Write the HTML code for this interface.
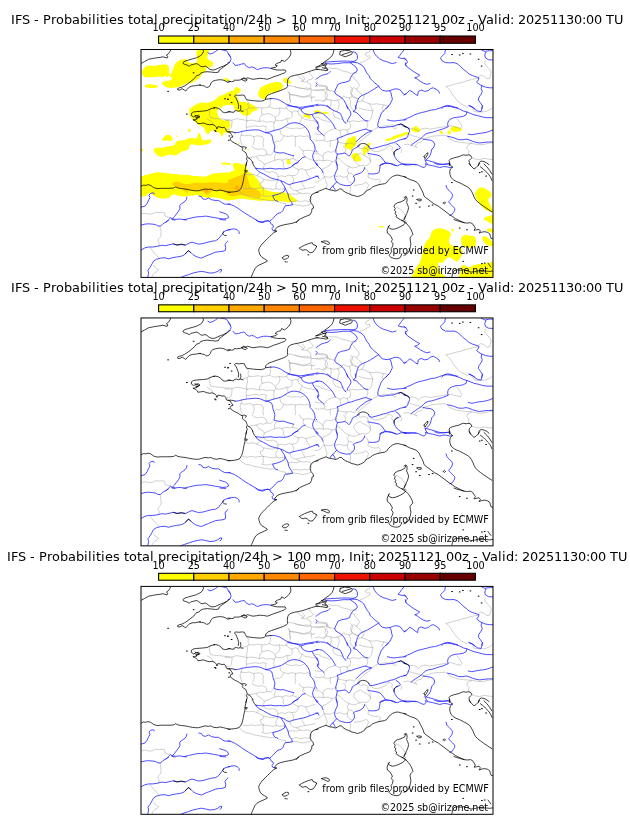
<!DOCTYPE html>
<html><head><meta charset="utf-8"><title>IFS - Probabilities total precipitation/24h</title>
<style>html,body{margin:0;padding:0;background:#fff}svg{display:block}text{font-family:"DejaVu Sans","Liberation Sans",sans-serif;fill:#000}</style></head>
<body>
<svg width="630" height="828" viewBox="0 0 630 828">
<defs>
<clipPath id="clip"><rect x="141.0" y="49.5" width="352.0" height="227.89999999999998"/></clipPath>
<g id="basemap" fill="none" stroke-linejoin="round" stroke-linecap="round">
<path stroke="#a0a0a0" stroke-width="0.5" d="M210.0,109.1 L209.3,112.0 L209.7,114.8 L210.7,117.7 L214.3,118.4 L218.6,118.7 L222.9,119.1 L227.1,119.8 L230.0,119.6 M207.1,119.1 L210.0,120.6 L212.1,122.0 L212.9,124.1 M142.1,213.7 L145.7,213.3 L149.3,214.3 L152.9,213.7 L155.7,212.3 L159.3,212.6 L162.1,212.3 L164.6,212.8 L165.0,216.1 L167.9,217.1 L170.7,217.6 M160.0,226.4 L160.7,229.6 L161.1,233.1 L160.7,236.7 L158.6,238.8 L157.9,241.0 L159.3,243.1 L158.6,246.0 M150.0,247.8 L152.1,250.3 L154.3,253.1 L156.4,255.3 L158.6,257.4 M153.6,265.3 L155.7,268.1 L158.6,269.6 L157.1,271.7 L155.0,272.4 L152.9,274.6 L152.1,276.7 M370.3,50.3 L368.9,52.1 L366.0,52.8 L365.3,55.0 L367.4,56.4 L369.6,55.7 L370.3,57.8 L367.4,59.3 L365.3,60.7 L362.4,62.1 L360.3,62.8 M328.9,67.8 L332.4,68.6 L336.0,68.3 L338.9,69.3 L341.7,70.7 L344.6,71.4 L348.1,72.1 L351.0,73.6 L353.9,72.8 L356.7,73.1 M351.7,75.7 L353.9,77.1 L354.6,79.3 L356.7,80.7 L358.1,82.8 L359.6,85.4 L358.1,87.1 L356.7,89.3 L358.1,91.4 L360.3,92.8 L361.7,95.0 M316.0,86.4 L318.9,86.0 L322.4,86.4 L326.0,86.8 L327.4,89.3 L330.3,90.7 L333.1,91.4 L335.3,92.1 M353.1,87.8 L351.0,90.0 L350.3,92.8 L351.7,95.0 L353.9,96.4 L356.0,97.8 L358.1,98.6 M353.9,87.8 L356.7,89.3 M396.0,206.8 L398.9,208.3 L401.7,210.4 L403.9,213.3 L405.3,216.1 M446.1,86.4 L449.7,85.7 L453.3,84.6 L456.9,83.6 L460.4,82.8 L464.0,81.7 L467.6,80.7 L471.1,79.7 L474.7,78.8 L478.3,78.3 M446.1,86.4 L448.3,88.6 L450.4,90.7 L451.9,93.6 L454.0,96.4 L456.1,99.3 L459.0,102.1 L461.9,104.3 L464.7,105.7 L467.6,107.1 M485.4,60.7 L484.7,62.8 L486.1,65.7 L488.3,67.8 L490.4,70.0 L491.1,72.8 L490.4,75.7 L489.7,78.3 L486.9,78.8 L484.0,76.4 L481.1,75.0 L479.0,76.4 M409.0,129.1 L412.6,128.4 L416.9,129.8 L418.3,132.0 L421.1,129.1 L425.4,128.1 L429.7,129.1 L434.0,128.4 L438.3,127.7 L442.6,127.0 L446.9,126.3 L450.4,125.6 L454.0,126.7 L457.6,127.7 L460.4,128.4 L461.9,126.3 L460.4,123.4 L459.0,121.0 L456.9,119.1 M408.3,134.1 L411.9,135.6 L416.1,136.7 L419.7,137.7 L423.3,139.1 M404.0,144.8 L407.6,144.1 L411.1,145.3 L414.7,146.3 L416.9,147.7 L415.4,145.6 L417.6,143.0 L421.1,142.4 L423.3,139.8 M423.3,139.1 L427.6,137.7 L431.9,136.3 L436.1,135.8 L440.4,135.6 L444.7,135.3 L447.6,136.3 L449.7,139.1 L454.0,141.0 L458.3,142.0 L462.6,142.7 L466.9,143.0 L471.1,143.4 M471.1,143.4 L467.6,145.6 L466.9,148.4 L469.0,150.6 L468.3,153.4 L470.4,155.6 M471.1,143.4 L475.4,144.1 L479.7,144.8 L484.0,144.4 L488.3,143.4 L492.6,142.7 M471.9,157.7 L475.4,159.1 L479.7,159.6 L484.0,158.4 L488.3,159.1 L492.6,159.6 M472.6,109.1 L474.0,111.3 L477.6,112.0 L481.1,112.0 L485.4,111.6 L489.7,109.8 L492.6,107.7 M246.4,99.7 L248.6,102.3 L247.9,105.1 L249.3,108.0 L246.4,109.4 L242.9,110.6 L240.7,110.8 M249.3,108.0 L253.6,108.0 L257.9,107.3 L262.1,108.0 L266.4,107.7 L269.3,106.6 L272.1,108.0 L275.7,108.7 L279.3,108.0 L283.6,108.7 L286.4,108.0 M269.3,106.6 L270.7,103.7 L270.0,100.8 L271.4,98.7 M286.4,108.0 L287.9,105.1 L289.3,105.1 M286.4,108.0 L288.6,110.8 L292.1,112.3 L295.0,110.8 L297.9,111.6 L300.0,108.7 M288.6,91.6 L290.0,94.4 L289.3,97.3 L290.7,100.1 L290.0,103.0 L289.3,105.1 M290.0,94.4 L295.0,95.1 L299.3,96.6 L303.6,97.3 L307.9,96.6 L312.1,97.3 L315.0,96.8 M295.0,86.6 L297.9,88.0 L302.1,88.7 L306.4,88.0 L310.7,88.7 M247.1,109.4 L247.6,113.7 L246.4,117.3 L247.1,120.8 L246.1,124.0 L246.4,127.3 L246.4,130.1 M225.0,120.1 L228.6,120.8 L232.1,120.1 L231.9,123.7 L231.4,127.3 L229.3,129.4 L226.4,129.4 M232.1,120.1 L236.4,118.7 L240.7,119.4 L245.0,120.1 L247.1,120.8 M247.1,120.8 L251.4,120.1 L255.7,120.8 L259.3,121.6 L262.9,120.8 L266.4,122.3 L270.7,121.6 L274.3,122.3 L275.7,120.1 L275.0,117.3 L272.1,115.1 L269.3,113.7 L265.7,114.0 L262.1,114.8 L260.0,117.3 L259.3,121.6 M262.1,114.8 L261.4,111.6 L262.1,108.0 M275.7,120.1 L279.3,120.8 L283.6,120.1 L286.4,118.7 L290.0,118.7 L292.1,116.6 L292.1,112.3 M279.3,108.0 L280.0,111.6 L278.6,115.1 L275.7,117.3 M246.4,127.3 L250.7,126.6 L255.0,125.8 L259.3,126.6 L262.9,125.8 L266.4,126.6 L265.7,129.4 L265.7,133.0 M274.3,122.3 L273.6,125.8 L274.3,128.7 L273.6,131.1 M286.4,118.7 L287.9,122.3 L287.9,124.4 M297.9,111.6 L299.3,115.1 L302.1,117.3 L305.0,119.4 L309.3,120.1 L312.9,120.8 L315.0,120.8 M302.1,117.3 L300.7,120.8 L299.3,123.4 M240.7,135.1 L245.0,135.8 L249.3,135.1 L253.6,136.6 L257.9,135.8 L262.1,136.6 L263.6,139.4 L262.9,143.0 L263.6,146.6 M280.0,130.1 L280.7,133.7 L283.6,135.8 L287.9,136.6 L292.1,135.8 L295.7,136.6 L295.0,140.1 L295.7,143.7 L295.0,146.6 M283.6,135.8 L282.1,139.4 L279.3,141.6 L276.4,140.8 L274.3,143.0 M295.7,136.6 L300.0,135.8 L304.3,136.6 L307.9,135.8 L310.4,137.3 M242.1,131.1 L241.4,135.1 L240.0,138.0 L240.7,141.6 L242.1,145.1 M253.6,136.6 L254.3,140.8 L252.9,145.1 M304.3,127.3 L300.7,128.7 L296.4,128.0 L292.1,128.7 L288.6,128.0 L285.0,126.6 M315.0,90.1 L319.3,90.8 L323.6,90.1 L325.7,93.0 L325.0,96.6 L327.1,99.4 L330.7,100.1 L334.3,100.8 L337.9,100.1 L341.4,98.7 M327.1,86.6 L327.9,89.4 L325.7,93.0 M350.7,86.6 L352.9,89.4 L351.4,93.0 L352.1,96.6 L349.3,98.0 L345.7,97.3 L343.6,95.8 L341.4,98.7 M352.1,96.6 L355.0,98.0 L357.9,98.7 M315.0,100.8 L319.3,100.1 L323.6,101.6 L327.1,99.4 M330.7,100.1 L331.4,103.7 L330.0,108.0 M337.9,100.1 L339.3,103.7 L338.6,107.3 L337.1,111.6 M349.3,98.0 L350.7,101.6 L350.0,105.1 L351.4,108.0 L353.6,110.8 M357.9,101.6 L362.1,100.8 L365.7,102.3 L369.3,103.7 L372.9,104.4 L376.4,103.7 L380.0,104.4 L383.6,105.1 L387.1,105.8 M362.1,100.8 L363.6,98.0 L364.3,94.4 M369.3,103.7 L371.4,107.3 L372.9,110.8 L372.1,114.4 L371.4,118.0 L369.3,120.8 M359.3,108.0 L363.6,109.4 L367.9,110.1 L372.9,110.8 M383.6,105.1 L382.1,108.7 L383.6,111.6 M315.0,117.3 L319.3,118.0 L322.1,120.1 L325.7,120.8 L329.3,122.3 L330.7,121.6 M333.6,110.1 L332.9,113.7 L335.0,117.3 L338.6,118.7 L342.9,119.4 M345.0,122.3 L349.3,121.6 L353.6,120.8 L357.9,121.6 L362.1,120.8 L366.4,120.8 M349.3,121.6 L350.7,125.1 L350.0,128.7 L347.1,130.1 L343.6,129.4 L340.0,130.8 L335.7,128.7 M335.7,128.7 L332.1,129.4 L328.6,130.8 L325.7,133.0 L323.9,135.8 M366.4,120.8 L367.9,124.4 L367.1,127.3 L365.7,129.1 M371.4,131.1 L374.3,129.4 L377.1,128.0 L377.9,125.8 M371.4,131.1 L369.3,134.4 L365.7,136.6 L362.9,139.1 L360.0,141.6 L357.9,143.7 M315.0,133.7 L318.6,134.4 L322.1,134.4 M315.0,140.1 L319.3,140.8 L323.6,140.1 L327.1,141.6 L330.7,140.8 L335.0,140.1 L337.9,138.7 M323.9,135.8 L325.0,138.7 L323.6,140.1 M340.0,130.8 L340.7,134.4 L341.4,137.3 M347.1,130.1 L348.6,134.4 M338.1,142.3 L342.1,143.0 L346.4,143.7 L350.7,143.0 L354.3,144.4 L356.1,142.0 M330.7,140.8 L330.0,144.4 L330.7,146.6 M346.4,143.7 L345.7,146.6 M392.1,126.6 L394.3,128.7 L396.4,128.0 M247.9,158.0 L252.1,157.3 L256.4,156.6 L260.0,155.1 L263.6,155.8 L267.1,154.4 L270.7,155.1 L273.6,152.3 M252.1,146.6 L255.0,148.7 L258.6,149.4 L262.1,148.7 L265.7,150.1 L267.1,154.4 M256.4,156.6 L258.6,160.1 L262.1,161.6 L264.3,164.4 L263.6,167.3 L263.6,169.1 M264.3,164.4 L267.9,163.0 L271.4,161.6 L275.0,160.1 L278.6,159.4 L282.1,160.1 L283.6,163.0 L282.9,165.8 L285.0,168.7 M275.0,160.1 L274.3,156.6 L276.4,153.0 M282.1,160.1 L285.7,158.7 L289.3,159.4 L292.9,158.7 L293.6,155.8 M292.9,158.7 L296.4,160.1 L299.3,160.8 M299.3,146.6 L300.7,149.4 L303.6,150.8 L302.9,154.4 L305.0,156.8 M303.6,150.8 L307.9,150.1 L312.1,150.8 L315.0,151.6 M305.0,156.8 L308.6,158.7 L312.1,160.1 L315.0,160.8 M292.1,165.8 L295.0,168.0 L298.6,169.4 L302.1,168.7 L305.7,170.1 L309.3,169.4 L312.9,168.0 L315.0,168.0 M298.6,169.4 L297.9,173.0 L295.7,175.1 L292.1,175.8 L288.6,175.1 L285.0,176.6 L281.4,175.8 L277.9,176.6 L277.9,180.1 M263.6,169.1 L265.7,171.6 L269.3,172.3 L272.9,171.6 L276.4,173.0 L277.9,176.6 M245.3,174.4 L249.3,174.8 L253.6,174.4 L257.1,175.8 L260.0,172.3 M257.1,175.8 L260.7,177.3 L263.6,179.4 L262.9,182.3 L260.0,183.0 L260.7,185.8 L263.6,188.0 L262.9,190.8 L263.6,193.7 L262.1,195.8 M263.6,179.4 L267.9,180.1 L271.4,180.8 L275.0,180.1 L277.9,180.1 M242.9,188.0 L247.1,188.7 L251.4,188.0 L255.7,188.7 L260.0,188.0 L263.6,188.0 M263.6,188.0 L267.9,188.7 L272.1,189.4 L276.4,188.7 L280.0,189.4 L283.9,188.7 M276.4,188.7 L275.7,185.1 L277.1,182.3 L277.9,180.1 M239.3,190.8 L242.1,193.7 L245.7,195.8 L250.0,196.6 L254.3,198.0 L258.6,198.7 L262.1,199.4 L266.4,200.1 L270.7,200.8 L274.3,200.6 M262.1,195.8 L266.4,196.6 L270.7,195.8 L274.3,195.1 M277.6,201.6 L281.4,203.0 L285.7,203.7 L285.7,205.8 M287.9,194.4 L292.1,193.7 L296.4,194.4 L300.0,193.0 L303.6,193.7 L307.9,193.0 L310.7,194.4 M290.0,184.8 L290.7,188.0 L293.6,190.1 L296.4,190.8 L300.0,193.0 M296.4,190.8 L300.7,189.4 L305.0,188.7 L309.3,188.0 L312.9,187.3 L315.0,186.6 M301.4,181.6 L302.9,185.1 L305.0,188.7 M292.1,175.8 L293.6,179.4 L292.9,183.4 M305.7,170.1 L307.1,173.7 L309.3,176.6 L309.3,179.1 M292.1,201.6 L296.4,200.8 L300.7,201.6 L305.0,200.8 L309.3,201.6 L311.4,199.4 L310.7,196.6 L312.1,194.4 M285.9,205.7 L290.1,205.4 L293.7,204.7 L298.0,205.1 L302.3,206.1 L306.6,205.4 L310.6,204.0 M336.4,157.3 L340.0,159.4 L342.9,162.3 L345.7,165.1 L349.3,166.6 L352.9,168.0 L356.4,167.3 L360.0,165.8 L362.9,165.1 L365.7,165.8 L368.6,164.4 L370.7,161.6 L369.3,158.7 L366.4,156.6 L362.9,155.1 L360.7,153.0 L357.1,154.4 L354.3,156.6 L353.6,159.4 L355.7,162.3 L357.9,164.4 L360.0,165.8 M349.3,166.6 L347.1,170.1 L348.6,173.0 L352.1,173.7 L353.6,175.8 M336.1,176.6 L340.0,175.8 L343.6,177.3 L347.1,176.6 L348.6,173.0 M347.1,176.6 L347.9,180.1 L350.0,182.3 L352.4,183.4 M315.0,160.8 L319.3,160.1 L323.6,160.8 L327.9,160.1 L332.1,161.6 L336.1,160.8 M323.6,160.8 L322.9,156.6 L324.3,153.0 L327.9,151.6 L331.4,152.3 L335.0,150.8 L336.7,150.1 M315.0,153.0 L318.6,153.7 L322.9,156.6 M332.1,161.6 L330.0,165.1 L326.4,167.3 L322.9,168.7 L321.9,170.6 M322.9,173.0 L324.3,176.6 L328.6,177.3 L332.1,176.8 L334.3,175.1 M315.0,182.3 L318.6,181.6 L321.4,179.4 L324.3,176.6 M324.3,176.6 L325.7,180.8 L327.1,184.4 L326.4,188.0 M350.0,185.4 L350.7,188.7 L350.0,192.3 L351.4,194.8 M354.3,185.4 L358.6,184.8 L362.9,184.0 L366.4,182.3 L368.6,185.1 L367.1,188.7 L365.7,191.1 M364.7,167.7 L367.1,170.1 L368.6,173.7 L367.9,177.3 L371.4,178.7 L375.0,179.7 L378.6,179.1 L380.7,180.8 L379.3,183.7 L378.6,184.8 M343.6,146.6 L345.7,149.4 L345.0,153.0 M357.9,146.6 L360.7,148.7 L364.3,148.0 L367.9,149.4 L367.9,153.7 L370.0,156.6 L370.7,161.6 M309.0,71.6 L310.0,73.9 L311.9,75.8 L313.3,77.7 L311.9,79.2 L310.0,79.6 L308.1,80.1 L307.1,81.6 L308.1,83.0 L310.0,83.9 L311.0,85.8 L310.5,87.7 L311.9,90.1 L314.8,90.1 L317.6,89.9 L320.5,89.6 L323.3,89.6 L326.2,89.2 L327.1,87.3 L326.2,85.8 L323.3,85.4 L320.5,85.2 L318.6,84.9 M297.6,74.9 L298.6,76.8 L300.5,78.2 L302.4,79.2 L303.8,80.1 L302.4,81.1 L301.0,81.1 L303.3,81.6 L306.2,82.0 L307.1,81.6 M302.4,75.8 L303.8,77.3 L304.8,79.2 L303.8,80.1 M288.1,85.4 L291.0,85.8 L293.8,86.5 L296.7,87.3 L299.5,87.7 L302.4,88.4 L305.2,89.2 L308.1,89.6 L310.5,89.9 M288.1,92.0 L289.5,93.9 L291.0,94.9 L293.8,95.1 L296.7,95.4 L299.5,95.8 L302.4,96.6 L305.2,96.3 L308.1,95.6 L310.5,94.9 L311.0,93.0 L311.4,91.1 L311.9,90.1 M289.5,93.9 L290.0,96.8 L289.5,99.2 L290.5,101.6 M310.5,94.9 L311.9,96.8 L311.4,99.2 L311.9,101.6 M327.1,93.5 L327.6,95.8 L326.7,97.7 L325.2,99.6 L323.3,100.6 M326.2,89.2 L328.1,90.1 L330.0,91.1 M368.6,146.3 L371.0,149.8 L374.6,151.6 L378.9,151.3 L383.1,149.8 L386.0,148.4 L387.4,146.3 L390.3,145.6 L392.4,147.7 L391.7,150.6 L393.9,152.4 M400.3,147.7 L401.7,149.8 L401.0,152.7 M377.7,127.7 L381.0,127.0 L384.6,125.6 L388.1,126.3 L391.7,124.8 L395.3,125.6 L398.1,124.4"/>
<path stroke="#2222ff" stroke-width="0.8" d="M207.9,52.8 L210.0,54.0 L212.9,53.1 L215.7,51.4 L217.9,49.7 M219.3,49.3 L222.9,50.0 L226.4,50.7 L228.6,53.6 L230.0,56.4 M141.4,207.1 L145.0,206.1 L147.1,203.3 L148.6,200.0 L150.0,197.6 L148.9,195.1 L150.7,193.3 L153.6,192.8 L154.3,194.0 M165.7,222.6 L168.6,219.7 L170.7,217.6 L172.1,219.0 L174.3,216.8 L176.4,214.0 L178.6,211.1 L180.0,208.3 L179.7,205.4 L182.1,203.3 L185.0,201.4 L186.4,199.4 L186.9,197.1 M172.1,219.0 L175.7,219.4 L180.0,219.0 L184.3,219.7 L188.6,218.6 L192.9,217.6 L197.1,216.8 L201.4,216.6 L205.7,216.1 L210.0,216.8 L214.3,217.6 L218.6,218.3 L222.9,219.0 L226.4,218.6 L228.6,217.6 L227.9,215.4 L225.7,213.7 L222.9,212.8 L219.7,211.8 M198.9,196.1 L201.4,196.6 L202.9,199.0 L205.7,199.4 L208.6,198.0 L211.4,199.7 L215.0,200.4 L218.6,200.4 L221.4,202.3 L224.3,204.0 L227.9,204.3 L230.0,204.0 M141.4,225.0 L145.0,224.1 L148.6,223.8 L152.1,224.1 L155.7,224.6 L157.9,226.0 L160.7,226.0 L162.9,223.8 L165.7,222.1 L168.6,220.3 M141.4,249.8 L145.0,247.8 L148.6,247.0 L152.9,247.0 L157.1,246.4 L161.4,245.3 L165.7,245.6 L170.0,244.6 L173.6,243.8 L177.1,245.0 L181.4,244.6 L185.7,245.0 L189.3,243.1 L192.1,242.1 L195.0,243.1 L198.6,244.1 L202.9,243.6 L207.1,242.4 L211.4,241.3 L215.7,240.7 L218.6,238.8 L220.7,236.0 L222.6,233.6 L224.3,231.3 L227.1,230.3 L230.0,229.8 M147.9,276.7 L148.6,273.1 L147.9,270.3 L150.0,267.4 L152.1,263.8 L153.6,261.0 L156.4,259.3 L160.7,258.1 L165.0,257.8 L168.6,258.8 L172.1,257.8 L176.4,257.0 L180.7,256.4 L184.3,255.0 L186.4,252.7 L188.6,250.7 L190.7,252.4 L192.9,254.6 L195.7,256.4 L198.6,257.4 L201.4,258.1 L205.0,256.4 L208.6,255.0 L212.1,253.6 L215.7,252.1 L219.3,251.7 L222.9,251.3 L225.4,250.3 L225.7,247.4 L225.0,244.6 L226.4,242.4 L227.9,241.0 M180.7,277.4 L184.3,276.0 L188.6,274.6 L192.9,273.1 L197.1,272.1 L201.4,271.3 L205.7,272.1 L210.0,273.1 L214.3,272.7 L217.9,271.3 L220.0,269.6 L221.7,269.3 L221.4,271.3 L220.0,272.4 M172.1,219.6 L175.0,220.0 M183.6,219.6 L186.4,220.0 M220.0,219.6 L225.7,220.0 M228.0,54.0 L230.1,55.7 L231.1,59.3 L229.7,62.1 L228.0,62.8 M233.0,62.8 L235.1,65.4 L238.7,65.0 L241.6,64.0 L244.4,63.6 L246.6,66.4 L249.4,67.8 L251.6,66.8 L254.4,67.8 L257.3,69.7 L260.1,68.6 L263.7,67.8 L267.3,67.8 L270.9,68.3 M270.9,98.6 L274.4,98.6 L277.3,99.3 L280.1,100.3 L283.0,102.1 L285.9,104.0 L289.4,105.4 L293.0,106.4 L296.6,106.8 L299.4,107.4 L303.0,107.1 L306.6,106.4 L310.9,105.7 L315.1,105.0 L318.0,104.3 M235.1,132.7 L238.7,132.4 L242.3,131.3 L246.6,130.6 L250.9,130.1 L255.1,129.8 L259.4,130.1 L263.0,131.6 L265.9,132.7 L269.4,132.0 L273.7,130.6 L278.0,129.6 L281.6,128.4 L284.4,126.7 L287.3,124.8 L290.1,123.4 L293.7,122.7 L297.3,123.0 L300.9,124.1 L303.7,125.8 L306.3,128.1 L308.0,130.6 L309.4,133.4 L310.1,136.3 L310.1,139.1 L312.3,141.3 L314.0,144.1 L314.9,147.0 L315.1,149.8 L313.7,152.7 L312.6,155.6 L313.0,158.4 L314.4,161.3 L315.9,163.4 L317.3,165.6 M265.9,132.7 L269.4,133.4 L271.6,134.8 L272.6,137.7 L273.0,140.6 L274.0,143.4 L274.9,146.3 L274.4,149.1 L274.0,151.6 L276.6,152.4 L280.1,153.0 L283.7,152.7 L286.6,153.8 L290.1,154.8 L293.7,155.8 M292.3,165.6 L295.1,163.8 L298.0,162.0 L300.1,159.8 L302.3,157.7 L305.1,156.7 M288.0,105.6 L291.6,106.3 L295.1,107.0 L298.0,107.7 L300.9,109.1 L303.0,108.4 L305.9,107.3 L309.4,106.7 L313.7,106.3 M300.9,109.1 L302.3,112.0 L305.1,113.8 L308.7,114.8 L312.3,114.4 L315.1,113.4 L318.0,112.7 M312.3,114.8 L313.7,117.7 L315.1,119.8 L317.3,121.3 L318.0,123.4 M317.3,127.0 L318.0,129.1 M255.9,168.3 L258.7,168.6 L262.3,169.0 L266.6,168.6 L270.9,168.3 L275.1,169.0 L279.4,168.6 L283.7,169.0 L288.0,168.3 L291.6,166.8 L293.7,164.7 L295.9,163.3 L298.0,162.6 M255.9,168.3 L257.3,170.4 L260.1,172.3 L263.7,174.0 L267.3,176.1 L270.9,178.0 L274.4,179.0 L278.0,179.7 L280.9,180.8 L282.3,183.3 L284.0,185.7 L285.1,188.3 L284.4,191.1 L281.6,192.8 L278.0,194.3 L275.1,195.1 L272.6,195.7 L273.7,198.3 L275.1,200.4 L277.7,201.4 M280.9,180.8 L283.7,181.8 L286.6,183.7 L289.4,184.7 L293.0,183.3 L297.3,182.3 L301.6,181.4 L305.9,180.4 L309.4,179.0 L313.0,177.6 L315.9,176.6 L318.0,176.1 M285.1,188.3 L286.6,191.1 L288.0,194.0 L288.7,197.6 L290.1,200.4 L291.6,202.3 L292.6,204.7 L289.4,205.4 L285.9,205.7 M228.0,204.0 L230.9,204.7 L234.4,206.1 L238.0,208.3 L241.6,210.8 L245.1,213.3 L248.7,215.4 L252.3,217.6 L255.9,219.7 L258.7,221.4 L262.3,221.8 L265.1,221.1 L268.0,220.8 L269.4,221.4 L271.6,219.7 L273.7,217.6 L275.9,215.1 L278.0,213.3 L280.9,212.6 L283.0,210.4 L284.0,208.0 L285.1,206.1 M315.9,162.6 L318.0,164.7 M255.9,219.6 L257.3,221.3 L260.1,222.1 L263.0,222.7 L265.4,221.3 L268.0,220.7 L270.1,221.7 L270.9,223.8 L273.0,225.0 L273.4,227.0 L272.0,228.4 L272.6,230.3 L274.4,231.0 L276.6,231.0 M228.0,229.8 L230.9,229.3 L234.4,228.8 L237.3,229.8 L239.1,231.7 L239.1,233.6 M325.3,62.1 L330.3,61.7 L336.0,61.4 L341.7,61.1 L347.4,61.1 L353.1,61.4 L356.0,60.7 L357.4,58.6 L357.4,55.7 L356.0,52.8 L353.1,51.7 M326.0,63.6 L331.7,64.0 L337.4,63.6 L343.1,62.8 L348.9,62.8 L353.1,62.1 M353.1,62.1 L357.4,62.8 L361.0,64.6 L363.9,67.1 L365.3,70.0 L366.7,72.8 L369.1,75.7 L370.3,78.6 L372.4,80.7 L374.6,82.8 L377.4,85.0 L378.9,86.4 L380.3,88.6 L382.4,90.3 L386.0,91.1 L389.6,90.7 L391.0,92.8 L391.7,96.4 L392.4,99.3 L391.0,102.1 L389.6,105.0 L387.4,107.1 L386.0,108.6 M350.3,62.8 L353.4,65.0 L356.0,67.1 L357.4,70.0 L356.0,72.1 L353.4,73.6 L351.7,75.7 L350.3,78.3 L349.6,80.7 L346.0,82.1 L341.7,82.8 L338.1,84.3 L336.7,87.1 L335.3,90.0 L334.6,92.1 L336.0,94.3 L338.9,96.0 L341.7,97.8 L343.9,100.3 L345.3,102.8 L346.7,105.7 L347.7,108.6 M378.9,86.0 L376.0,87.8 L373.1,89.7 L370.3,91.4 L367.4,93.1 L363.9,94.6 L361.0,96.0 L358.9,97.8 L357.4,100.7 L356.7,103.6 L356.0,106.4 L355.7,108.6 M330.3,71.4 L328.1,73.6 L324.6,74.6 L321.7,75.4 L318.9,77.1 L316.7,78.8 L316.0,79.3 M316.0,82.8 L317.4,84.3 L316.0,86.0 M389.6,90.7 L392.4,89.7 L395.3,88.8 L398.9,89.3 L401.0,90.7 L402.4,92.8 L403.9,94.6 L406.0,94.0 M373.1,50.0 L374.6,53.6 L376.7,56.4 L379.6,58.8 L383.1,60.7 L386.7,61.7 L389.6,62.8 L392.4,63.6 L396.0,62.6 M403.9,50.0 L401.7,52.8 L399.6,55.7 L398.1,57.4 L401.0,58.3 L403.9,58.6 L406.0,59.3 M405.3,62.8 L406.0,65.7 M316.0,105.7 L320.3,105.0 L324.6,105.4 L328.1,106.8 L330.3,108.6 M327.4,105.6 L330.3,108.4 L333.9,110.6 L337.4,112.0 L340.3,113.4 L341.7,116.3 L343.1,119.8 L344.6,122.4 L346.0,123.4 M316.0,112.7 L319.6,112.7 L322.4,113.4 L325.3,115.6 L328.1,118.4 L331.0,121.3 L333.1,124.1 L334.6,127.0 L335.3,128.4 M316.0,121.3 L318.1,124.1 L318.9,127.7 L317.4,129.1 L319.6,132.0 L322.4,134.1 L323.9,135.6 M346.7,105.6 L348.1,108.4 L350.3,111.3 L351.0,114.1 L349.6,117.0 L348.1,119.1 L347.4,121.3 M355.3,105.6 L356.0,108.4 L354.6,110.6 L353.1,111.3 L356.7,112.7 L358.9,114.8 L361.0,117.0 L363.1,119.1 L365.3,120.6 L368.1,121.0 M388.9,105.6 L386.7,107.7 L384.6,109.8 L382.4,112.0 L381.0,114.1 L380.0,117.0 L378.9,119.8 L378.1,122.7 L377.7,125.6 L379.6,127.7 L383.1,127.7 L386.7,127.0 L390.3,126.7 L393.9,126.3 L397.4,124.8 L400.3,124.1 L403.1,125.6 L406.0,127.0 M387.4,119.8 L390.3,120.6 L393.9,121.0 L397.4,120.6 L401.7,120.1 L406.0,119.8 M337.4,138.4 L341.0,137.0 L344.6,135.6 L348.1,134.1 L351.7,133.4 L355.3,132.0 L358.9,131.0 L362.4,129.8 L366.0,129.1 L368.1,130.1 L371.7,131.0 L368.9,132.0 L366.0,133.4 L363.1,135.6 L360.3,137.7 L358.1,139.8 L356.3,141.6 M337.4,138.4 L338.1,141.3 L337.4,144.1 L336.7,147.0 L335.7,149.8 L336.0,152.7 L337.4,154.1 L341.0,153.8 L344.6,153.0 L346.7,154.1 L348.9,156.3 L350.3,154.8 L351.7,152.0 L352.4,149.8 L354.6,148.4 L357.4,147.0 L359.6,145.6 M337.4,154.1 L336.7,157.0 L336.0,160.6 L336.7,163.4 L337.4,165.6 M368.6,146.3 L369.6,148.4 L372.4,148.7 L376.0,147.7 L379.6,146.7 L383.1,145.6 L386.7,144.8 L390.3,143.4 L393.9,142.7 L396.7,141.3 L400.3,139.8 L403.1,139.1 L406.0,138.7 M396.0,143.4 L398.9,145.6 L400.3,147.7 L398.9,149.1 L396.7,149.8 L394.3,152.0 L393.9,154.8 L395.3,157.7 L397.4,160.6 L400.3,162.7 L403.1,164.1 L406.0,164.4 M368.1,153.4 L371.7,154.1 L376.0,154.8 L379.6,155.8 L381.7,157.7 L383.9,160.6 L385.3,162.7 L383.9,164.1 L381.0,164.8 L379.6,165.6 M385.3,162.7 L388.9,163.4 L393.1,164.1 L396.0,165.6 M316.0,150.6 L317.1,151.6 M336.0,162.6 L337.1,165.4 L337.4,169.0 L336.0,171.8 L334.9,174.7 L334.6,177.6 L335.7,180.4 L336.7,181.8 L334.6,184.0 L332.9,186.1 L331.0,187.6 L330.0,189.4 M332.9,186.1 L334.3,188.3 L335.3,190.0 M336.7,181.8 L339.6,184.0 L343.1,185.1 L346.7,185.7 L350.3,185.4 L352.4,183.7 L354.3,181.1 L354.6,178.3 L353.4,176.1 L355.3,174.7 L358.1,174.0 L361.0,172.8 L363.1,171.1 L364.3,169.0 L364.6,167.6 M368.9,173.7 L372.4,174.0 L376.0,173.7 L378.9,172.6 L379.6,169.7 L380.0,166.8 L381.0,164.3 L383.9,163.3 L387.4,163.3 L391.0,163.7 L393.9,165.1 L397.4,165.7 L401.0,164.3 L403.9,164.0 L406.0,164.7 M316.0,164.0 L318.9,166.8 L321.7,169.7 L323.1,172.8 M316.0,176.1 L318.1,176.6 L318.9,178.3 M445.4,50.0 L444.7,53.6 L442.6,55.7 L440.4,57.8 L441.9,60.7 L445.4,62.6 L449.7,62.8 L454.0,62.6 L457.6,64.0 L460.4,66.4 L463.3,69.3 L466.1,71.4 L469.0,74.0 L472.6,75.7 L476.1,76.8 L479.0,77.8 L478.3,80.0 L476.6,82.1 L479.0,84.0 L481.9,85.7 L485.4,87.1 L489.7,87.8 L492.6,87.8 M404.0,57.8 L406.1,59.7 L407.6,62.1 L405.4,64.3 L406.9,66.8 L410.4,69.3 L413.3,71.4 L416.9,73.6 L419.7,75.0 L417.6,76.8 L414.7,77.8 L417.6,79.3 L420.4,81.4 L423.3,83.1 L426.9,84.3 L430.0,83.6 M404.0,95.0 L406.9,93.1 L409.7,90.3 L412.6,92.1 L415.4,94.3 L417.6,95.7 L418.3,91.4 L421.1,90.0 L424.7,91.4 L428.3,90.7 L430.4,88.6 L433.3,87.8 L436.1,89.3 L439.0,91.4 L439.4,93.1 M441.9,108.6 L444.0,106.4 L447.6,105.4 L451.1,106.0 L454.7,107.1 L457.6,107.8 M481.1,49.7 L484.0,51.1 L486.1,52.1 L484.7,55.0 L485.4,57.8 L488.3,59.7 L492.6,60.0 M486.1,51.1 L489.7,50.7 L492.6,50.7 M481.9,85.7 L481.1,88.6 L482.3,91.4 L481.1,94.3 L479.0,97.1 L478.3,100.0 L480.4,102.8 L482.3,105.7 L481.9,108.6 M469.0,105.7 L472.6,107.1 L474.7,108.6 M404.0,119.8 L407.6,118.1 L411.1,116.7 L414.7,114.8 L418.3,113.4 L422.6,112.4 L426.9,111.3 L431.1,110.1 L435.4,109.6 L439.7,108.1 L443.3,106.7 L446.9,106.3 L451.1,106.7 L455.4,107.7 L459.7,109.1 L463.3,111.0 L466.9,112.0 L470.4,113.4 L474.0,114.8 L478.3,115.8 L482.6,117.0 L486.9,117.7 L491.1,117.7 L492.6,117.7 M466.9,112.0 L466.1,114.8 L463.3,116.3 L459.7,117.0 L456.1,117.3 L452.6,118.1 L449.7,119.6 L448.0,122.0 L447.6,124.8 L448.3,126.7 L446.1,127.7 L442.6,129.1 L439.0,130.1 L435.4,131.3 L431.9,132.4 L428.3,133.0 L425.4,134.1 L423.3,136.3 L421.1,138.4 L418.3,140.1 L415.4,142.0 L412.9,143.8 L411.1,145.3 M469.0,105.6 L471.9,107.0 L474.7,109.1 L477.6,111.0 L481.1,111.6 L481.9,108.4 L482.6,105.6 M404.0,126.3 L406.9,127.0 L409.0,128.4 L409.7,131.3 L408.3,134.1 L407.6,137.0 L405.4,138.4 L404.0,138.7 M423.3,139.1 L426.9,139.8 L430.4,140.1 L433.3,141.6 L434.7,144.1 L434.0,147.0 L431.9,149.1 L431.1,152.0 L430.4,154.8 L429.0,157.0 L426.9,159.1 L425.4,160.6 L426.1,162.7 L427.6,164.1 M404.0,164.4 L408.3,164.1 L412.6,164.4 L416.1,164.8 M424.7,159.8 L428.3,160.6 L431.9,161.6 L435.4,162.7 L439.0,163.8 L442.6,164.4 L446.1,164.1 L449.0,163.4 M447.6,136.3 L451.1,137.0 L454.7,138.1 L458.3,139.6 L462.6,139.8 L466.1,139.1 L469.0,139.8 L472.6,141.3 L476.1,142.4 L479.7,143.0 L484.0,142.4 L488.3,142.0 L492.6,142.0 M468.3,134.1 L471.9,134.8 L475.4,134.1 L479.0,133.4 L482.6,133.0 L486.1,132.4 L489.7,131.3 L492.6,130.1 M404.0,164.7 L407.6,165.1 L411.1,164.7 L414.7,164.3 L418.3,165.1 L421.1,166.6 L424.0,167.6 L426.1,165.7 L425.4,163.7 L429.0,165.1 L432.6,165.7 L436.1,166.6 L439.7,167.6 L443.3,166.6 L446.9,166.8 L449.7,167.6 L452.6,167.1 M434.7,163.3 L438.3,164.7 L442.6,164.3 L446.9,164.0 L449.7,164.3 M446.1,185.4 L446.9,188.3 L449.0,190.4 L451.1,192.6 L452.6,194.7 L451.9,197.6 L450.0,200.4 L448.6,201.8 L450.4,204.0 L452.6,206.1 L454.7,208.3 L454.7,210.4 L453.3,212.6 L451.9,214.7 L449.7,215.4"/>
<path stroke="#000000" stroke-width="0.75" d="M141.4,63.3 L144.3,61.7 L148.6,59.3 L153.6,58.3 L157.9,57.6 L160.0,57.4 L162.9,56.8 L167.1,58.0 L167.9,56.4 L166.4,55.3 L168.6,53.6 L170.0,51.4 L170.7,49.7 M202.9,49.7 L203.6,51.4 L202.1,54.3 L200.0,56.0 L196.4,57.8 L192.9,58.8 L188.6,60.0 L185.0,61.1 L182.9,62.6 L183.6,64.0 L185.7,64.6 L187.9,65.4 L189.3,66.4 L190.7,65.0 L193.6,64.3 L196.4,63.6 L198.6,64.6 L200.7,66.4 L202.9,66.8 L205.0,66.0 L207.1,67.1 L209.3,69.0 L212.1,70.0 L215.0,69.7 L217.9,68.3 L220.7,67.1 L223.6,66.0 L226.4,64.6 L229.3,62.8 L230.0,62.1 M227.1,64.3 L224.3,66.4 L221.4,68.6 L219.3,70.0 L218.6,72.1 L215.7,72.6 L211.4,72.1 L207.1,71.7 L203.6,72.1 L200.7,73.1 L199.3,75.0 L196.4,75.7 L195.0,77.8 L192.9,79.7 L190.0,82.1 L187.1,84.3 L184.3,86.0 L181.4,87.4 L179.3,87.8 L177.4,88.8 L177.9,90.0 L180.0,90.0 L182.1,88.6 L184.3,90.0 L185.7,91.0 L187.1,89.3 L189.3,87.1 L192.1,86.0 L195.7,85.7 L199.3,85.0 L201.4,85.4 L204.3,86.0 L206.4,87.4 L208.6,87.1 L210.3,85.0 L211.1,82.8 L212.9,81.1 L215.7,80.3 L219.3,79.7 L222.9,80.0 L225.7,81.1 L227.9,82.4 L230.0,81.7 M230.0,111.6 L227.1,112.4 L224.3,112.7 L222.1,111.6 L220.7,109.8 L218.6,108.4 L215.7,107.7 L212.9,108.1 L210.0,109.1 L207.1,110.6 L203.6,111.0 L200.0,111.3 L196.4,111.6 L193.6,112.0 L191.4,113.4 L191.4,115.6 L193.6,117.0 L196.4,115.8 L198.6,115.3 L200.0,116.7 L197.9,118.1 L195.7,117.7 L197.1,119.1 L194.3,119.6 L192.9,119.8 L195.7,121.0 L197.1,122.4 L197.9,123.8 L200.7,123.4 L203.6,123.0 L206.4,124.1 L209.3,124.8 L212.1,124.4 L215.0,125.6 L216.4,127.3 L216.9,129.1 L217.9,126.7 L220.0,127.0 L222.1,127.7 L224.3,127.3 L225.7,129.1 L226.4,131.3 L228.6,132.0 L230.0,132.4 M195.0,115.3 L199.3,117.0 L196.4,118.1 M141.4,186.1 L143.6,185.1 L145.7,185.4 L147.9,184.7 L150.7,185.4 L153.6,187.6 L157.1,188.6 L161.4,188.3 L165.7,188.3 L170.0,188.3 L173.6,188.0 L175.7,186.8 L177.9,188.0 L181.4,188.6 L185.0,189.0 L188.6,189.7 L192.1,190.4 L195.7,190.8 L198.6,190.8 L201.4,190.0 L205.0,189.0 L208.6,189.4 L210.7,189.0 L213.6,190.4 L217.1,190.8 L220.0,190.0 L223.6,190.8 L227.1,191.8 L230.0,192.3 M173.6,244.1 L177.1,245.0 L181.4,244.1 L185.0,245.0 M185.4,253.8 L187.1,251.7 L188.9,250.7 L190.7,252.7 M223.6,231.7 L222.6,233.8 L224.3,235.3 L226.4,235.6 M290.1,49.7 L290.9,52.1 L290.6,55.0 L288.7,57.8 L286.6,60.0 L284.4,61.4 L283.0,60.7 L281.6,60.0 L280.9,62.1 L278.7,62.8 L276.6,63.6 L275.1,65.0 L277.3,65.7 L275.9,67.1 L273.0,67.8 L270.9,68.3 L273.7,69.3 L277.3,70.0 L281.6,70.0 L285.1,70.0 L285.9,71.4 L284.4,73.1 L281.6,74.0 L278.0,75.4 L273.7,76.8 L270.1,78.3 L267.3,79.3 L263.7,78.6 L260.1,78.3 L256.6,78.8 L253.0,79.3 L250.9,78.8 L249.4,78.3 L247.3,77.8 L245.9,78.6 L243.7,77.8 L242.3,78.8 L240.1,80.0 L236.6,80.3 L234.4,80.0 L233.7,81.4 L231.6,81.7 L228.0,81.1 M241.6,79.3 L243.7,80.7 L245.9,81.1 L247.3,79.7 L245.1,78.8 L243.0,78.6 L241.6,79.3 M318.0,69.3 L315.1,69.7 L311.6,70.7 L307.3,72.1 L303.0,73.6 L298.7,74.6 L294.4,75.4 L290.9,76.4 L288.7,77.8 L287.7,80.0 L287.3,83.6 L287.7,86.4 L286.6,87.8 L283.7,89.3 L280.1,90.7 L275.9,92.1 L271.6,93.6 L268.0,95.0 L265.9,97.1 L265.4,99.3 L270.9,98.6 M265.4,99.3 L264.4,100.3 L261.6,101.1 L258.0,101.1 L253.7,100.7 L250.1,100.3 L246.6,99.7 L245.4,97.8 L244.4,95.4 L242.3,95.0 L238.7,95.4 L235.9,95.0 L234.4,96.0 L235.9,97.8 L236.9,100.0 L238.0,102.8 L238.7,105.7 L238.3,108.6 M228.0,111.6 L230.9,112.0 L233.7,112.4 L234.4,111.0 L236.6,110.6 L238.7,111.3 L240.1,110.6 L240.9,108.4 L240.6,105.6 M240.9,111.0 L243.0,111.3 M235.1,132.7 L233.0,132.0 L230.1,131.7 L228.0,132.0 M230.1,132.7 L231.6,134.8 L233.0,137.0 L231.1,137.3 L230.1,139.1 L231.6,141.3 L234.4,143.0 L237.3,144.4 L239.4,145.8 L241.6,147.0 L243.0,148.4 L242.0,149.8 L243.7,151.3 L245.9,152.7 L246.6,154.8 L247.3,157.0 L246.3,158.7 L247.3,160.6 L246.6,162.7 L245.9,165.6 M241.6,147.0 L244.4,146.7 L246.6,147.7 L245.1,149.1 M248.0,157.7 L250.1,158.7 L251.6,160.6 L253.0,162.7 M252.3,162.6 L253.4,164.7 L254.4,166.8 L255.9,168.3 M246.6,162.6 L245.9,166.1 L245.1,169.7 L244.9,173.3 L244.0,176.8 L243.4,180.4 L242.6,184.0 L241.6,187.1 L240.1,189.7 L238.0,191.1 L234.4,191.8 L230.9,192.1 L228.0,192.3 M245.1,170.4 L247.3,170.8 L246.6,172.3 L245.1,171.4 M318.0,192.3 L315.1,192.8 L312.3,194.3 L310.6,196.8 L310.1,200.0 L311.1,203.3 L313.0,205.4 L313.7,208.0 L312.0,208.6 L311.6,211.8 L310.1,214.7 L306.6,216.1 L303.0,217.6 L300.1,219.0 L298.0,220.4 L296.3,222.6 M298.7,220.3 L296.6,221.7 L293.0,223.1 L289.4,223.8 L285.1,224.6 L280.9,225.6 L278.0,226.7 L275.9,228.4 L274.4,230.7 L276.6,231.3 L273.7,232.7 L271.6,234.6 L269.4,236.7 L267.3,238.8 L265.1,241.0 L263.0,243.1 L261.1,245.3 L259.7,247.4 L258.7,249.8 L259.1,252.4 L260.1,255.0 L262.0,257.4 L264.4,258.8 L266.9,260.3 L267.3,261.3 L264.9,262.4 L262.0,263.8 L259.1,265.0 L256.6,266.7 L254.9,268.8 L253.7,271.3 L252.6,273.8 L251.6,276.0 L251.1,277.4 M299.4,248.1 L301.6,246.7 L304.4,245.3 L307.3,244.1 L310.1,243.1 L312.3,242.7 L313.0,244.6 L315.1,245.3 L316.6,246.0 L315.9,248.1 L314.4,250.3 L313.0,252.1 L310.9,252.7 L308.7,252.1 L307.3,250.3 L305.1,249.6 L303.0,250.3 L300.9,249.6 L299.4,248.1 M282.3,257.8 L284.0,256.4 L286.3,255.3 L288.3,255.6 L288.7,257.0 L287.3,258.4 L285.1,259.3 L283.4,259.3 L282.3,257.8 M284.9,261.7 L287.3,262.0 M333.9,50.0 L333.4,52.8 L332.0,55.7 L329.6,58.3 L326.7,60.3 L324.6,61.7 L322.4,63.6 L320.3,65.0 L318.1,66.4 L316.0,67.4 M316.0,67.1 L318.9,66.8 L321.7,65.7 L324.6,64.6 L326.0,65.7 L324.6,67.1 L326.7,67.8 L328.1,70.0 L326.0,70.7 L323.1,70.0 L320.3,69.7 L317.4,69.3 L316.0,68.6 M321.7,63.6 L325.3,62.8 L326.7,64.6 L323.9,65.4 L321.7,63.6 M322.4,67.8 L326.0,68.6 L327.4,69.7 M340.3,51.4 L344.6,50.3 L349.6,50.7 L352.4,52.1 L351.7,54.3 L348.1,55.7 L345.3,56.8 L342.4,55.7 L339.6,54.6 L340.3,51.4 M342.4,54.6 L350.3,52.1 M357.4,146.3 L359.6,144.4 L362.4,143.4 L365.3,143.8 L367.4,144.8 L368.6,146.3 M398.9,124.8 L401.0,123.8 L403.1,124.8 L405.3,126.3 L406.0,127.0 M397.4,149.1 L395.3,150.6 L393.9,152.4 L394.3,154.8 M316.0,192.6 L318.9,191.1 L322.4,189.7 L326.0,188.3 L328.1,189.4 L330.3,190.0 L333.1,190.4 L335.3,191.1 L337.4,190.4 L339.6,189.0 L341.7,189.0 L343.1,190.8 L346.0,192.6 L348.9,193.7 L351.7,195.1 L354.6,195.7 L357.4,196.6 L360.3,195.7 L362.4,194.7 L364.6,193.3 L365.3,191.8 L367.4,190.4 L370.3,189.0 L372.4,187.1 L374.6,186.1 L377.4,185.1 L381.0,184.3 L384.6,183.7 L386.7,182.6 L388.1,180.4 L390.3,178.3 L392.4,176.6 L395.3,175.4 L398.1,175.1 L401.7,176.1 L406.0,177.1 M406.0,196.8 L404.6,200.0 L401.0,201.8 L397.4,202.8 L394.6,204.7 L393.9,206.8 L395.3,208.3 L394.3,210.4 L396.0,211.8 L394.9,213.7 L396.7,215.1 L396.0,216.8 L398.1,218.3 L400.3,219.7 L403.1,220.8 L404.6,219.0 L405.3,216.8 L406.0,216.1 M321.4,241.7 L323.9,241.0 L326.7,241.0 L328.9,242.1 L329.6,243.8 L328.1,244.6 L326.0,243.6 L323.9,242.7 L321.4,241.7 M316.0,246.0 L316.7,246.7 M406.0,222.4 L403.9,224.6 L401.0,226.4 L398.1,227.8 L395.3,228.8 L392.4,229.3 L389.6,228.4 L388.1,226.7 L389.6,225.3 L388.1,227.4 L387.1,230.3 L387.4,233.1 L389.6,234.6 L391.0,236.7 L392.4,239.3 L391.4,241.7 L393.1,243.8 L392.4,246.7 L391.0,248.8 L391.7,251.7 L390.3,253.8 L388.9,255.3 L391.0,257.4 L393.9,258.4 L396.7,258.8 L399.6,258.1 L401.0,256.0 L401.7,253.8 M401.7,220.3 L403.9,221.7 L405.3,221.0 M404.0,126.3 L406.1,127.0 L408.3,128.1 L409.0,129.1 M424.0,156.7 L425.4,154.8 L426.9,153.4 L428.0,152.7 L427.6,154.8 L426.1,157.0 L425.1,158.7 L424.0,156.7 M449.4,165.6 L449.7,162.7 L449.0,160.6 L450.4,159.1 L453.3,158.1 L456.1,157.3 L459.0,156.7 L461.1,155.6 L463.3,154.8 L466.1,155.3 L469.0,154.8 L470.9,155.8 L471.9,157.7 L470.4,159.1 L469.0,160.6 L469.4,162.7 L470.4,165.6 M478.3,165.6 L479.0,162.7 L481.1,161.0 L484.0,161.6 L486.9,163.0 L489.0,164.8 M404.0,176.6 L406.9,178.0 L410.4,179.7 L414.0,180.8 L416.9,182.3 L419.0,184.7 L420.4,187.6 L421.9,190.4 L423.3,193.3 L424.0,196.1 L426.1,198.0 L429.0,200.0 L431.9,202.3 L434.7,204.3 L438.3,206.1 L441.1,208.3 L444.0,210.4 L446.9,212.6 L449.7,214.7 L452.6,216.6 L455.4,218.6 L458.3,220.0 L461.1,221.4 L464.0,222.6 M449.4,162.6 L450.4,165.4 L452.6,167.1 L450.4,169.0 L449.7,171.8 L450.0,174.7 L451.1,177.6 L453.3,179.7 L456.1,181.4 L459.7,182.8 L463.3,184.7 L466.9,186.6 L469.7,188.6 L471.4,191.1 L472.9,194.0 L474.0,196.8 L475.4,199.4 L477.6,201.8 L480.4,204.0 L483.3,206.1 L486.1,208.0 L489.0,210.0 L491.9,211.8 M404.0,197.6 L405.4,196.6 L406.9,197.6 L407.1,200.4 L406.6,202.6 L407.6,204.7 L408.6,207.6 L408.0,210.4 L406.9,213.3 L405.7,215.7 L404.7,217.6 L404.0,219.0 M469.0,163.3 L471.1,166.1 L474.0,169.0 L476.1,167.6 L478.3,165.4 L479.7,163.3 M480.4,166.8 L483.3,169.0 L485.4,171.1 L488.3,174.0 L490.4,176.8 L491.9,180.4 M484.0,164.0 L486.9,166.8 L489.7,170.4 L491.9,174.0 M416.9,199.4 L419.0,199.0 L421.4,199.4 L421.1,200.8 L418.3,200.8 L416.9,199.4 M443.3,203.0 L444.4,201.8 L445.6,203.0 L444.4,204.1 L443.3,203.0 M404.0,222.1 L406.1,223.1 L408.0,225.3 L409.7,227.4 L411.1,229.8 L412.3,232.4 L412.9,234.6 L411.1,236.4 L410.0,238.1 L410.4,241.0 L410.9,243.8 L410.4,246.7 L409.7,249.6 L408.3,252.4 L406.1,254.6 L404.0,255.3 M454.0,219.6 L456.9,220.7 L460.4,221.7 L464.0,222.7 L467.6,223.1 L470.4,222.7 L472.6,223.8 L474.0,226.0 L475.4,228.1 L474.0,230.3 L476.9,229.8 L479.0,229.3 L480.4,231.0 L479.0,233.1 L481.9,232.1 L484.7,231.7 L487.6,232.4 L489.7,233.8 L490.4,236.4 L491.1,238.4 L492.6,238.8 M451.9,276.7 L452.6,273.6 L454.0,270.7 L456.9,269.8 L460.4,270.3 L464.0,269.8 L467.6,271.0 L471.1,272.1 L474.7,271.7 L478.3,270.7 L481.9,271.3 L485.4,271.0 L489.7,271.4 L492.6,271.0 M488.0,263.1 L489.4,265.0 L490.9,267.0"/>
<path stroke="#000000" stroke-width="1" d="M167.7,91.4h0.8 M193.2,72.8h0.8 M224.6,98.8h0.8 M227.5,99.3h0.8 M213.9,107.8h0.8 M199.6,85.0h0.8 M186.5,114.1h0.8 M215.3,131.3h0.8 M228.9,136.0h0.8 M228.5,140.3h0.8 M214.6,130.6h0.8 M229.7,95.0h0.8 M231.2,102.6h0.8 M227.6,99.3h0.8 M308.0,254.8h0.8 M451.7,54.6h0.8 M459.3,55.0h0.8 M462.5,53.6h0.8 M470.0,54.0h0.8 M478.2,59.3h0.8 M481.2,66.1h0.8 M481.5,171.8h0.8 M485.7,176.1h0.8 M479.3,172.6h0.8 M412.2,196.1h0.8 M415.7,203.3h0.8 M428.6,206.1h0.8 M432.2,205.1h0.8 M419.3,207.1h0.8 M413.3,190.0h0.8 M451.5,182.6h0.8 M459.3,228.1h0.8 M466.5,229.8h0.8 M462.9,261.4h0.8 M481.5,263.6h0.8 M484.3,263.1h0.8"/>
</g>
</defs>
<rect width="630" height="828" fill="#fff"/>
<g transform="translate(0,0)">
<text x="11.1 15.1 22.1 30.1 34.1 39.1 43.1 51.1 56.1 64.1 72.1 80.1 88.1 92.1 96.1 100.1 105.1 109.1 117.1 124.1 128.1 133.1 141.1 146.1 154.1 158.1 162.1 170.1 175.1 183.1 190.1 194.1 202.1 206.1 211.1 219.1 224.1 228.1 236.1 244.1 248.1 256.1 264.1 272.1 276.1 287.1 291.1 299.1 307.1 311.1 324.1 337.1 341.1 345.1 349.1 357.1 361.1 366.1 370.1 374.1 382.1 390.1 398.1 406.1 414.1 422.1 430.1 438.1 442.1 450.1 458.1 465.1 469.1 474.1 478.1 486.1 494.1 498.1 502.1 510.1 514.1 518.1 526.1 534.1 542.1 550.1 558.1 566.1 574.1 582.1 586.1 594.1 602.1 606.1 614.1" y="24.25" font-size="12.9">IFS - Probabilities total precipitation/24h &gt; 10 mm, Init: 20251121 00z - Valid: 20251130:00 TU</text>
<g clip-path="url(#clip)">
<path fill="#ffff00" d="M141.7,72.6 C141.8,71.5 142.8,70.1 143.6,69.0 C144.4,67.9 145.4,66.7 146.4,66.1 C147.5,65.5 148.7,65.5 150.0,65.4 C151.3,65.4 152.9,65.9 154.3,65.9 C155.7,65.8 157.0,65.2 158.6,65.0 C160.1,64.8 162.1,64.5 163.6,64.4 C165.0,64.4 166.3,64.3 167.1,64.7 C168.0,65.1 168.2,65.9 168.6,66.9 C168.9,67.8 169.2,69.3 169.3,70.4 C169.4,71.5 168.9,72.9 169.1,73.6 C169.4,74.3 170.1,74.9 170.6,74.7 C171.0,74.5 171.3,73.5 171.7,72.6 C172.1,71.6 172.7,70.2 173.1,69.0 C173.6,67.8 173.7,66.5 174.3,65.4 C174.8,64.4 175.6,63.4 176.4,62.6 C177.3,61.7 178.2,61.0 179.3,60.4 C180.4,59.9 181.8,59.5 182.9,59.3 C183.9,59.0 185.0,58.7 185.7,59.0 C186.4,59.3 186.5,60.5 187.1,61.1 C187.7,61.7 188.3,62.2 189.3,62.6 C190.2,62.9 191.7,63.3 192.9,63.3 C194.0,63.3 195.7,63.0 196.4,62.6 C197.1,62.1 197.1,61.4 197.1,60.4 C197.2,59.5 197.0,58.0 196.9,56.9 C196.7,55.7 196.4,54.3 196.4,53.3 C196.5,52.3 196.5,51.3 197.1,50.7 C197.7,50.1 198.8,49.9 200.0,49.7 C201.2,49.5 202.8,49.5 204.3,49.4 C205.8,49.4 208.2,48.8 208.9,49.4 C209.5,50.1 208.6,52.0 208.3,53.3 C208.0,54.5 207.1,55.8 207.1,56.9 C207.2,57.9 207.9,59.0 208.6,59.7 C209.3,60.4 210.7,60.5 211.4,61.1 C212.2,61.7 213.0,62.5 213.1,63.3 C213.3,64.1 212.8,65.2 212.1,65.9 C211.5,66.5 210.2,67.0 209.3,67.3 C208.3,67.6 207.0,67.0 206.4,67.6 C205.9,68.1 206.4,69.6 206.0,70.4 C205.6,71.3 204.9,72.0 204.3,72.6 C203.6,73.2 202.7,73.4 202.1,74.0 C201.5,74.6 201.2,75.4 200.7,76.1 C200.2,76.9 199.9,77.7 199.3,78.3 C198.7,78.9 197.9,79.3 197.1,79.7 C196.4,80.1 195.7,80.2 195.0,80.7 C194.3,81.2 193.7,82.1 192.9,82.6 C192.0,83.0 191.0,83.2 190.0,83.3 C189.0,83.4 188.1,83.1 187.1,83.3 C186.2,83.5 185.2,84.0 184.3,84.4 C183.3,84.9 182.4,85.5 181.4,85.9 C180.5,86.3 179.6,86.6 178.6,86.9 C177.5,87.1 176.3,87.4 175.0,87.6 C173.7,87.7 172.0,87.9 170.7,87.9 C169.4,87.8 168.2,87.6 167.1,87.3 C166.1,87.0 165.1,86.4 164.3,85.9 C163.5,85.3 162.4,84.7 162.1,84.0 C161.9,83.3 162.3,82.4 162.9,81.9 C163.5,81.3 164.9,80.8 165.7,80.7 C166.5,80.6 167.0,81.3 167.9,81.1 C168.7,81.0 170.0,80.2 170.7,79.7 C171.4,79.2 172.2,78.8 172.1,78.3 C172.1,77.7 171.0,76.8 170.3,76.4 C169.6,76.0 168.8,75.7 168.1,75.9 C167.5,76.0 167.0,77.2 166.6,77.3 C166.1,77.3 166.0,76.2 165.4,76.1 C164.8,76.1 164.0,76.8 162.9,76.9 C161.7,76.9 160.0,76.4 158.6,76.4 C157.1,76.4 155.7,76.7 154.3,76.9 C152.9,77.0 151.4,77.2 150.0,77.3 C148.6,77.4 146.9,77.6 145.7,77.3 C144.5,77.0 143.5,76.2 142.9,75.4 C142.2,74.6 141.6,73.6 141.7,72.6Z"/>
<path fill="#ffff00" d="M145.0,85.4 C145.5,84.9 147.1,84.4 148.6,84.3 C150.0,84.2 152.1,84.5 153.6,84.7 C155.0,84.9 156.4,85.1 157.1,85.4 C157.9,85.8 158.2,86.5 157.9,86.9 C157.5,87.3 156.3,87.7 155.0,87.9 C153.7,88.0 151.5,88.0 150.0,87.9 C148.5,87.8 146.5,87.7 145.7,87.3 C144.9,86.9 144.5,85.9 145.0,85.4Z"/>
<path fill="#ffff00" d="M223.6,79.0 C223.8,78.6 224.9,78.3 225.7,78.3 C226.5,78.3 227.7,78.6 228.3,79.0 C228.9,79.4 229.5,80.1 229.3,80.4 C229.1,80.8 228.0,81.1 227.1,81.1 C226.3,81.2 224.9,81.1 224.3,80.7 C223.7,80.4 223.3,79.4 223.6,79.0Z"/>
<path fill="#ffff00" d="M190.0,109.0 C190.4,109.1 191.2,107.6 192.1,106.9 C193.1,106.1 194.5,105.4 195.7,104.7 C196.9,104.1 198.1,103.4 199.3,103.0 C200.5,102.6 201.7,102.6 202.9,102.6 C204.0,102.6 205.2,103.1 206.4,103.0 C207.6,102.9 208.8,102.2 210.0,101.9 C211.2,101.5 212.5,101.2 213.6,100.7 C214.6,100.2 215.7,99.6 216.4,99.0 C217.1,98.4 217.1,97.5 217.9,96.9 C218.6,96.3 219.6,95.8 220.7,95.4 C221.8,95.0 223.2,94.9 224.3,94.4 C225.4,94.0 226.2,93.0 227.1,92.6 C228.1,92.1 229.4,91.8 230.0,91.6 C230.6,91.3 230.2,91.3 230.9,91.1 C231.5,91.0 233.1,90.9 233.7,90.4 C234.3,90.0 234.0,88.8 234.4,88.3 C234.9,87.8 235.7,87.3 236.6,87.3 C237.4,87.3 238.7,87.8 239.4,88.3 C240.1,88.8 240.9,89.7 240.9,90.4 C240.9,91.1 240.1,92.0 239.4,92.6 C238.8,93.2 237.4,93.4 236.9,94.0 C236.3,94.6 236.1,95.4 236.3,96.1 C236.5,96.9 237.5,97.5 238.0,98.3 C238.5,99.1 238.5,100.5 239.1,101.1 C239.7,101.7 240.6,101.7 241.6,101.9 C242.6,102.0 244.0,102.0 245.1,102.1 C246.3,102.3 247.5,102.6 248.7,103.0 C249.9,103.4 251.1,104.1 252.3,104.7 C253.5,105.4 254.9,106.1 255.9,106.9 C256.8,107.6 257.5,108.9 258.0,109.0 C258.5,109.1 258.7,107.6 258.7,107.7 C258.7,107.8 258.7,109.0 258.0,109.6 C257.3,110.1 255.5,110.5 254.4,111.0 C253.4,111.5 252.3,111.8 251.6,112.4 C250.9,113.0 251.0,114.0 250.1,114.6 C249.3,115.1 247.8,115.7 246.6,115.7 C245.4,115.8 244.1,115.4 243.0,114.9 C241.9,114.3 241.2,113.1 240.1,112.4 C239.1,111.8 237.5,111.6 236.6,111.0 C235.6,110.4 235.1,109.3 234.4,108.9 C233.7,108.4 232.9,107.9 232.3,108.1 C231.6,108.4 231.0,109.2 230.6,110.3 C230.1,111.4 229.7,113.1 229.4,114.6 C229.1,116.0 228.7,117.6 228.7,118.9 C228.8,120.1 229.4,121.2 229.7,122.0 C230.0,122.8 230.5,123.1 230.6,123.9 C230.6,124.6 230.5,125.9 230.1,126.7 C229.8,127.5 228.7,127.9 228.7,128.9 C228.7,129.8 230.5,131.8 230.0,132.4 C229.5,133.0 226.8,132.3 225.7,132.4 C224.6,132.5 224.0,132.7 223.6,133.1 C223.1,133.6 223.2,134.7 222.9,135.3 C222.5,135.9 221.8,136.8 221.4,136.7 C221.1,136.6 221.2,135.3 220.7,134.6 C220.2,133.9 219.4,133.0 218.6,132.4 C217.7,131.9 216.7,131.7 215.7,131.4 C214.8,131.1 213.8,130.5 212.9,130.6 C211.9,130.6 210.7,131.2 210.0,131.7 C209.3,132.3 209.3,133.6 208.6,133.9 C207.9,134.1 206.3,133.7 205.7,133.1 C205.1,132.5 205.4,131.2 205.0,130.3 C204.6,129.3 204.4,128.3 203.6,127.4 C202.7,126.6 201.2,126.0 200.0,125.3 C198.8,124.6 197.5,124.0 196.4,123.1 C195.4,122.3 194.5,121.2 193.6,120.3 C192.6,119.3 191.4,118.4 190.7,117.4 C190.0,116.5 189.5,115.8 189.3,114.6 C189.0,113.4 189.2,111.7 189.3,110.3 C189.4,108.9 189.9,106.2 190.0,106.0 C190.1,105.8 189.6,108.9 190.0,109.0Z"/>
<path fill="#ffffff" d="M218.1,105.5 C218.6,105.9 219.7,108.7 220.5,108.8 C221.3,108.9 221.9,106.7 222.9,106.1 C223.8,105.6 225.0,105.5 226.2,105.3 C227.4,105.1 228.8,105.0 230.0,105.0 C231.2,105.0 232.6,104.9 233.3,105.5 C234.0,106.0 234.0,107.1 234.3,108.3 C234.5,109.5 234.8,111.3 234.8,112.6 C234.7,113.9 234.6,115.0 234.1,116.0 C233.6,116.9 232.8,117.7 231.9,118.3 C231.0,119.0 229.8,119.4 228.6,119.8 C227.4,120.1 226.0,120.6 224.8,120.5 C223.6,120.5 222.4,120.0 221.4,119.5 C220.4,118.9 219.5,118.2 218.9,117.2 C218.2,116.2 217.9,114.7 217.6,113.6 C217.4,112.4 217.1,111.0 217.3,110.2 C217.6,109.4 219.0,109.4 219.0,108.8 C219.1,108.2 217.8,107.0 217.6,106.4 C217.5,105.9 217.6,105.1 218.1,105.5Z"/>
<path fill="#ffff00" d="M153.6,150.3 C153.6,149.3 154.8,148.6 155.7,148.1 C156.7,147.7 158.1,147.5 159.3,147.4 C160.5,147.4 161.7,147.8 162.9,147.7 C164.0,147.6 165.1,147.0 166.4,146.7 C167.7,146.4 169.4,146.3 170.7,146.0 C172.0,145.7 173.5,145.5 174.3,144.9 C175.1,144.3 175.1,143.1 175.7,142.4 C176.3,141.8 176.9,141.4 177.9,141.0 C178.8,140.6 180.2,140.5 181.4,140.3 C182.6,140.1 183.9,140.3 185.0,140.0 C186.1,139.7 186.8,138.9 187.9,138.6 C188.9,138.3 190.2,138.1 191.4,138.1 C192.6,138.1 194.0,138.7 195.0,138.6 C196.0,138.5 196.7,138.1 197.1,137.4 C197.6,136.8 197.5,135.3 197.9,134.6 C198.2,133.9 198.8,133.0 199.3,133.1 C199.8,133.3 200.4,134.5 200.7,135.3 C201.1,136.1 201.1,137.3 201.4,138.1 C201.8,139.0 202.0,139.9 202.9,140.3 C203.7,140.6 205.4,140.4 206.4,140.3 C207.4,140.2 208.1,139.7 208.9,139.6 C209.6,139.5 210.3,139.3 210.7,139.6 C211.1,139.8 211.5,140.5 211.4,141.0 C211.3,141.5 210.7,142.3 210.0,142.9 C209.3,143.4 208.2,144.0 207.1,144.3 C206.1,144.6 204.9,144.7 203.6,144.9 C202.3,145.0 200.7,145.3 199.3,145.3 C197.9,145.3 196.3,145.0 195.0,144.9 C193.7,144.7 192.4,144.1 191.4,144.3 C190.5,144.5 189.8,145.2 189.3,146.0 C188.8,146.8 189.2,148.1 188.6,148.9 C188.0,149.6 186.8,150.1 185.7,150.6 C184.6,151.0 183.2,151.0 182.1,151.4 C181.1,151.9 180.2,152.5 179.3,153.1 C178.3,153.8 177.5,154.9 176.4,155.3 C175.4,155.6 174.0,155.4 172.9,155.3 C171.7,155.2 170.5,154.5 169.3,154.6 C168.1,154.6 166.9,155.4 165.7,155.7 C164.5,156.1 163.3,156.7 162.1,156.7 C161.0,156.8 159.6,156.5 158.6,156.0 C157.5,155.5 156.5,154.8 155.7,153.9 C154.9,152.9 153.6,151.2 153.6,150.3Z"/>
<path fill="#ffff00" d="M161.7,139.6 C161.7,139.1 162.9,138.4 163.6,137.7 C164.2,137.0 164.8,135.7 165.7,135.3 C166.7,134.9 168.3,135.0 169.3,135.3 C170.3,135.5 171.2,136.0 171.7,136.7 C172.3,137.4 172.7,138.9 172.6,139.6 C172.4,140.3 171.6,140.8 170.7,141.0 C169.8,141.2 168.3,140.6 167.1,140.6 C166.0,140.5 164.5,140.7 163.6,140.6 C162.7,140.4 161.7,140.0 161.7,139.6Z"/>
<path fill="#ffff00" d="M187.9,129.6 C188.0,129.3 188.8,128.7 189.3,128.9 C189.8,129.0 190.5,129.8 190.7,130.3 C191.0,130.8 191.0,131.5 190.7,131.7 C190.5,132.0 189.7,131.9 189.3,131.7 C188.9,131.5 188.5,130.9 188.3,130.6 C188.0,130.2 187.7,129.9 187.9,129.6Z"/>
<path fill="#ffff00" d="M176.1,136.3 C176.1,136.0 176.6,135.6 176.9,135.6 C177.1,135.6 177.6,136.0 177.6,136.3 C177.6,136.5 177.1,137.0 176.9,137.0 C176.6,137.0 176.1,136.5 176.1,136.3Z"/>
<path fill="#ffff00" d="M141.1,148.9 C141.5,148.5 142.9,149.2 143.1,149.6 C143.4,149.9 143.2,150.7 142.9,151.0 C142.5,151.3 141.4,151.8 141.1,151.4 C140.9,151.1 140.8,149.2 141.1,148.9Z"/>
<path fill="#ffff00" d="M258.3,93.3 C258.4,92.2 258.8,90.9 259.4,89.7 C260.1,88.6 261.1,87.3 262.3,86.4 C263.5,85.5 265.1,85.0 266.6,84.4 C268.0,83.9 269.4,83.4 270.9,83.0 C272.3,82.6 273.8,82.3 275.1,82.1 C276.5,82.0 277.6,82.0 278.7,82.1 C279.8,82.3 280.9,82.7 281.6,83.3 C282.3,83.9 282.9,85.0 283.0,85.9 C283.1,86.8 282.6,87.9 282.0,88.7 C281.4,89.5 280.5,90.2 279.4,90.7 C278.4,91.2 277.0,91.5 275.9,91.9 C274.7,92.2 273.4,92.3 272.3,92.6 C271.2,92.9 270.3,93.1 269.4,93.6 C268.6,94.0 267.9,94.6 267.3,95.4 C266.7,96.2 266.5,97.6 265.9,98.3 C265.3,98.9 264.5,99.3 263.7,99.3 C262.9,99.3 261.7,98.8 260.9,98.3 C260.0,97.8 259.1,97.0 258.7,96.1 C258.3,95.3 258.2,94.4 258.3,93.3Z"/>
<path fill="#ffff00" d="M283.0,79.7 C283.1,79.1 283.7,78.5 284.4,78.3 C285.1,78.0 286.6,78.0 287.3,78.3 C288.0,78.5 288.1,79.1 288.7,79.7 C289.3,80.3 290.4,81.3 290.9,81.9 C291.3,82.5 291.9,83.0 291.6,83.3 C291.2,83.6 289.7,83.6 288.7,83.6 C287.8,83.5 286.7,83.3 285.9,83.0 C285.0,82.7 284.2,82.4 283.7,81.9 C283.2,81.3 282.9,80.3 283.0,79.7Z"/>
<path fill="#ffff00" d="M303.0,115.3 C303.2,114.8 304.4,114.2 305.1,113.9 C305.9,113.5 306.6,113.1 307.3,113.1 C308.0,113.2 308.8,113.8 309.4,114.3 C310.0,114.8 310.7,115.3 310.9,116.0 C311.0,116.7 310.6,118.2 310.1,118.6 C309.7,118.9 308.7,118.4 308.0,118.1 C307.3,117.9 306.6,117.4 305.9,117.1 C305.1,116.9 304.2,117.0 303.7,116.7 C303.2,116.4 302.8,115.8 303.0,115.3Z"/>
<path fill="#ffff00" d="M313.7,111.7 C313.8,111.2 315.1,110.5 315.9,110.3 C316.6,110.0 317.3,110.2 318.0,110.3 C318.7,110.4 319.7,110.5 320.1,111.0 C320.6,111.5 321.0,112.5 320.9,113.1 C320.7,113.7 319.9,114.5 319.4,114.6 C319.0,114.6 318.7,113.6 318.0,113.4 C317.3,113.2 316.1,113.7 315.4,113.4 C314.7,113.1 313.6,112.2 313.7,111.7Z"/>
<path fill="#ffff00" d="M286.9,160.0 C287.0,159.6 287.6,159.2 288.0,159.1 C288.4,159.1 289.1,159.1 289.4,159.6 C289.8,160.0 290.1,161.1 290.1,161.7 C290.1,162.4 289.8,163.1 289.4,163.4 C289.0,163.7 288.1,163.7 287.7,163.4 C287.3,163.1 287.0,162.3 286.9,161.7 C286.7,161.1 286.7,160.4 286.9,160.0Z"/>
<path fill="#ffff00" d="M238.6,143.4 C238.6,143.2 239.1,142.8 239.4,142.9 C239.7,142.9 240.3,143.5 240.3,143.7 C240.3,144.0 239.7,144.3 239.4,144.3 C239.1,144.2 238.6,143.7 238.6,143.4Z"/>
<path fill="#ffff00" d="M247.3,149.6 C247.3,149.3 248.0,148.8 248.3,148.9 C248.6,148.9 249.1,149.4 249.1,149.7 C249.1,150.0 248.6,150.6 248.3,150.6 C248.0,150.5 247.3,149.9 247.3,149.6Z"/>
<path fill="#ffff00" d="M322.4,112.0 C322.8,111.7 324.3,111.7 325.3,111.7 C326.2,111.7 327.7,111.7 328.1,112.0 C328.6,112.3 328.6,113.1 328.1,113.4 C327.7,113.7 326.2,113.9 325.3,113.9 C324.4,113.9 323.3,113.7 322.9,113.4 C322.4,113.1 322.0,112.3 322.4,112.0Z"/>
<path fill="#ffff00" d="M344.6,144.6 C344.8,143.5 346.1,142.0 346.7,141.0 C347.3,140.0 347.4,139.1 348.1,138.6 C348.9,138.0 350.1,138.1 351.0,137.7 C351.9,137.3 352.7,136.6 353.4,136.3 C354.1,136.0 354.9,135.7 355.3,136.0 C355.7,136.3 355.8,137.2 356.0,138.1 C356.2,139.1 356.7,140.6 356.7,141.7 C356.7,142.8 356.4,143.7 356.0,144.6 C355.6,145.4 354.9,146.0 354.3,146.7 C353.7,147.4 352.9,147.7 352.4,148.6 C352.0,149.4 351.8,151.5 351.4,151.7 C351.1,151.9 351.0,150.0 350.3,149.6 C349.6,149.1 348.3,149.5 347.4,149.1 C346.6,148.8 345.8,148.2 345.3,147.4 C344.8,146.7 344.3,145.6 344.6,144.6Z"/>
<path fill="#ffff00" d="M351.4,155.3 C351.7,154.7 352.7,153.8 353.4,153.4 C354.2,153.1 355.2,153.1 356.0,153.1 C356.8,153.2 357.5,153.4 358.1,153.9 C358.7,154.3 359.1,155.2 359.6,156.0 C360.0,156.8 360.9,158.0 361.0,158.9 C361.1,159.7 360.9,160.6 360.3,161.0 C359.7,161.4 358.4,161.4 357.4,161.4 C356.5,161.4 355.3,161.4 354.6,161.0 C353.8,160.6 353.3,159.8 352.9,159.1 C352.4,158.5 352.0,157.8 351.7,157.1 C351.5,156.5 351.1,155.9 351.4,155.3Z"/>
<path fill="#ffff00" d="M362.4,148.9 C362.6,148.0 363.3,147.2 363.9,146.7 C364.5,146.2 365.4,146.5 366.0,146.0 C366.6,145.5 366.9,143.9 367.7,143.4 C368.5,143.0 370.8,143.0 371.0,143.4 C371.2,143.9 369.5,145.2 369.1,146.0 C368.8,146.8 369.0,147.4 369.1,148.1 C369.3,148.9 370.2,149.7 370.0,150.3 C369.8,150.8 368.8,151.1 368.1,151.4 C367.5,151.8 366.5,151.9 366.0,152.4 C365.5,153.0 365.6,153.9 365.3,154.6 C365.0,155.2 364.6,156.3 364.3,156.3 C363.9,156.3 363.4,155.3 363.1,154.6 C362.9,153.8 363.0,152.7 362.9,151.7 C362.7,150.8 362.3,149.7 362.4,148.9Z"/>
<path fill="#ffff00" d="M385.3,139.6 C385.8,139.2 387.2,138.8 388.1,138.6 C389.1,138.3 390.2,138.5 391.0,138.1 C391.8,137.8 392.3,136.8 393.1,136.3 C394.0,135.8 395.0,135.6 396.0,135.3 C397.0,135.0 397.9,134.9 398.9,134.6 C399.8,134.3 400.8,133.8 401.7,133.4 C402.7,133.1 403.6,132.6 404.6,132.4 C405.5,132.2 406.6,132.1 407.4,132.1 C408.3,132.2 409.4,132.5 409.6,132.9 C409.8,133.2 409.2,134.0 408.6,134.3 C408.0,134.6 406.9,134.3 406.0,134.6 C405.1,134.9 404.1,135.6 403.1,136.0 C402.2,136.4 401.2,136.8 400.3,137.1 C399.3,137.5 398.4,137.8 397.4,138.1 C396.4,138.5 395.4,138.8 394.3,139.1 C393.2,139.5 392.1,140.0 391.0,140.3 C389.9,140.6 388.4,141.0 387.4,141.0 C386.5,141.0 385.6,140.8 385.3,140.6 C384.9,140.3 384.8,139.9 385.3,139.6Z"/>
<path fill="#ffff00" d="M411.9,129.6 C412.1,128.9 413.3,127.7 414.0,127.1 C414.7,126.5 415.4,125.9 416.1,126.0 C416.9,126.1 417.6,127.1 418.3,127.7 C419.0,128.3 420.3,129.0 420.4,129.6 C420.5,130.2 419.6,131.0 419.0,131.4 C418.4,131.9 417.6,132.4 416.9,132.4 C416.1,132.5 415.0,132.0 414.3,131.7 C413.5,131.5 412.7,131.4 412.3,131.0 C411.9,130.6 411.6,130.2 411.9,129.6Z"/>
<path fill="#ffff00" d="M439.7,131.0 C439.9,130.5 440.9,130.3 441.4,130.6 C442.0,130.8 442.7,131.9 442.9,132.4 C443.0,133.0 442.7,133.7 442.3,133.9 C441.9,134.0 440.9,133.9 440.4,133.4 C440.0,133.0 439.5,131.5 439.7,131.0Z"/>
<path fill="#ffff00" d="M447.6,131.7 C447.8,131.1 448.9,130.2 449.4,130.3 C450.0,130.4 450.8,131.8 450.9,132.4 C451.0,133.1 450.5,134.0 450.0,134.3 C449.5,134.5 448.4,134.3 448.0,133.9 C447.6,133.4 447.3,132.3 447.6,131.7Z"/>
<path fill="#ffff00" d="M450.4,128.6 C450.7,128.0 451.7,127.1 452.6,126.7 C453.4,126.3 454.5,126.2 455.4,126.3 C456.3,126.4 457.2,126.8 458.0,127.1 C458.8,127.5 459.4,127.8 460.0,128.1 C460.6,128.5 461.7,128.7 461.9,129.1 C462.0,129.6 461.7,130.6 461.1,131.0 C460.5,131.4 459.2,131.3 458.3,131.4 C457.3,131.5 456.4,131.7 455.4,131.7 C454.5,131.7 453.3,131.7 452.6,131.4 C451.8,131.2 451.2,130.8 450.9,130.3 C450.5,129.8 450.1,129.2 450.4,128.6Z"/>
<path fill="#ffff00" d="M140.0,176.9 C140.2,173.5 140.5,176.9 141.4,176.6 C142.4,176.3 144.3,175.5 145.7,175.1 C147.1,174.7 148.6,174.5 150.0,174.1 C151.4,173.7 152.9,173.0 154.3,172.7 C155.7,172.4 157.1,172.3 158.6,172.3 C160.0,172.3 161.4,172.5 162.9,172.7 C164.3,172.9 165.7,173.1 167.1,173.3 C168.6,173.5 170.0,173.6 171.4,173.7 C172.9,173.9 174.3,174.0 175.7,174.1 C177.1,174.3 178.6,174.6 180.0,174.7 C181.4,174.8 182.9,174.6 184.3,174.7 C185.7,174.8 187.1,175.0 188.6,175.1 C190.0,175.3 191.4,175.7 192.9,175.9 C194.3,176.0 195.7,176.0 197.1,176.1 C198.6,176.3 200.0,176.5 201.4,176.6 C202.9,176.6 204.5,176.7 205.7,176.6 C206.9,176.4 207.6,176.0 208.6,175.6 C209.5,175.2 210.2,174.5 211.4,174.1 C212.6,173.8 214.3,173.5 215.7,173.3 C217.1,173.0 218.6,172.8 220.0,172.7 C221.4,172.6 222.6,172.8 224.3,172.7 C226.0,172.6 228.8,172.5 230.0,172.3 C231.2,172.0 230.8,171.6 231.6,171.3 C232.3,170.9 234.1,170.8 234.4,170.1 C234.7,169.5 233.7,168.2 233.4,167.3 C233.1,166.3 232.6,165.0 232.6,164.4 C232.5,163.9 232.3,164.1 233.0,163.9 C233.7,163.6 235.3,163.1 236.6,163.1 C237.9,163.1 239.7,163.6 240.9,163.9 C242.0,164.1 243.1,165.0 243.7,164.9 C244.3,164.7 244.1,162.8 244.4,163.0 C244.8,163.2 245.4,164.8 245.9,165.9 C246.3,166.9 246.7,168.4 247.3,169.4 C247.9,170.5 248.5,171.5 249.4,172.3 C250.4,173.1 251.9,173.6 253.0,174.4 C254.1,175.3 255.0,176.3 255.9,177.3 C256.7,178.2 257.3,179.1 258.0,180.1 C258.7,181.2 259.4,182.6 260.1,183.7 C260.9,184.8 261.5,185.6 262.3,186.6 C263.1,187.5 264.0,188.7 265.1,189.4 C266.3,190.1 268.0,190.5 269.4,190.9 C270.9,191.3 272.3,191.6 273.7,191.9 C275.1,192.1 276.6,192.2 278.0,192.3 C279.4,192.4 280.9,192.2 282.3,192.3 C283.7,192.4 285.4,192.4 286.6,192.7 C287.8,193.0 288.5,193.5 289.4,194.1 C290.4,194.8 291.3,195.8 292.3,196.6 C293.2,197.3 294.3,198.1 295.1,198.7 C296.0,199.4 297.3,199.9 297.3,200.4 C297.3,201.0 296.2,201.5 295.1,201.9 C294.1,202.2 292.3,202.3 290.9,202.3 C289.4,202.3 288.0,202.0 286.6,201.9 C285.1,201.7 283.7,201.7 282.3,201.6 C280.9,201.5 279.4,201.3 278.0,201.3 C276.6,201.2 275.1,201.4 273.7,201.3 C272.3,201.2 270.9,201.0 269.4,200.9 C268.0,200.7 266.6,200.4 265.1,200.4 C263.7,200.4 262.3,200.9 260.9,200.9 C259.4,200.9 258.0,200.6 256.6,200.4 C255.1,200.3 253.7,200.0 252.3,199.9 C250.9,199.7 249.4,199.6 248.0,199.4 C246.6,199.2 245.1,198.8 243.7,198.7 C242.3,198.6 240.9,198.6 239.4,198.7 C238.0,198.8 236.5,199.2 235.1,199.4 C233.8,199.7 232.8,200.0 231.6,200.1 C230.4,200.3 229.0,200.5 228.0,200.4 C227.0,200.4 226.8,200.1 225.7,199.9 C224.6,199.6 222.9,199.0 221.4,198.7 C220.0,198.4 218.6,198.2 217.1,198.0 C215.7,197.8 214.3,197.3 212.9,197.3 C211.4,197.3 210.0,198.0 208.6,198.0 C207.1,198.0 205.7,197.6 204.3,197.3 C202.9,196.9 201.4,196.3 200.0,195.9 C198.6,195.4 196.9,194.8 195.7,194.7 C194.5,194.7 194.0,195.3 192.9,195.6 C191.7,195.8 190.0,196.0 188.6,196.1 C187.1,196.3 185.7,196.6 184.3,196.6 C182.9,196.6 181.4,196.5 180.0,196.1 C178.6,195.8 177.0,195.0 175.7,194.7 C174.4,194.5 173.1,194.3 172.1,194.7 C171.2,195.1 171.1,196.7 170.0,197.3 C168.9,197.9 167.1,198.2 165.7,198.4 C164.3,198.6 162.9,198.6 161.4,198.4 C160.0,198.3 158.5,198.0 157.1,197.6 C155.8,197.1 154.5,196.3 153.6,195.6 C152.6,194.8 152.3,193.3 151.4,193.0 C150.6,192.7 149.5,193.2 148.6,193.7 C147.6,194.2 146.9,195.4 145.7,195.9 C144.5,196.3 142.4,196.4 141.4,196.6 C140.5,196.7 140.2,200.0 140.0,196.7 C139.8,193.4 139.8,180.2 140.0,176.9Z"/>
<path fill="#ffff00" d="M228.0,163.1 C229.1,163.2 229.7,162.6 230.1,162.9 C230.6,163.1 231.2,164.2 230.9,164.6 C230.5,164.9 229.2,164.9 228.0,164.9 C226.8,164.9 224.9,164.8 223.7,164.6 C222.6,164.4 221.1,164.1 221.1,163.7 C221.1,163.4 222.6,162.5 223.7,162.4 C224.9,162.3 226.9,163.1 228.0,163.1Z"/>
<path fill="#ffd000" d="M172.1,183.7 C172.3,183.2 173.3,182.6 174.3,182.3 C175.2,182.0 176.7,181.8 177.9,181.9 C179.0,181.9 180.1,182.3 181.4,182.7 C182.7,183.1 184.3,184.0 185.7,184.1 C187.1,184.3 188.6,183.9 190.0,183.7 C191.4,183.5 192.9,183.2 194.3,183.0 C195.7,182.8 197.1,182.7 198.6,182.7 C200.0,182.7 201.4,183.0 202.9,183.0 C204.3,183.0 205.7,182.8 207.1,182.7 C208.6,182.6 210.0,182.4 211.4,182.3 C212.9,182.2 214.3,182.2 215.7,182.3 C217.1,182.4 218.6,182.5 220.0,182.7 C221.4,182.9 223.0,183.4 224.3,183.3 C225.6,183.2 227.2,182.8 227.9,182.3 C228.5,181.8 227.4,180.7 228.0,180.1 C228.6,179.5 230.4,179.2 231.6,178.7 C232.8,178.2 234.0,177.8 235.1,177.3 C236.3,176.8 237.6,176.3 238.7,175.9 C239.8,175.4 240.7,174.9 241.6,174.4 C242.4,174.0 243.1,173.5 243.7,173.0 C244.3,172.5 244.7,171.5 245.1,171.6 C245.6,171.7 245.9,172.8 246.3,173.7 C246.6,174.7 246.9,176.1 247.3,177.3 C247.7,178.5 248.4,179.7 248.7,180.9 C249.1,182.0 249.1,183.4 249.4,184.4 C249.8,185.5 250.1,186.6 250.9,187.3 C251.6,188.0 252.8,188.1 253.7,188.4 C254.7,188.8 255.6,188.9 256.6,189.4 C257.5,190.0 258.7,190.9 259.4,191.6 C260.2,192.3 260.9,192.9 261.1,193.7 C261.4,194.5 261.3,195.9 260.9,196.6 C260.5,197.3 259.7,197.9 258.7,198.0 C257.8,198.1 256.3,197.5 255.1,197.3 C254.0,197.0 252.8,196.8 251.6,196.6 C250.4,196.4 249.2,196.3 248.0,196.1 C246.8,196.0 245.6,195.7 244.4,195.6 C243.2,195.4 242.0,195.1 240.9,195.1 C239.7,195.1 238.5,195.3 237.3,195.6 C236.1,195.8 234.8,196.5 233.7,196.6 C232.6,196.7 231.8,196.4 230.9,196.1 C229.9,195.9 228.9,195.7 228.0,195.1 C227.1,194.6 226.6,193.6 225.7,193.0 C224.9,192.4 223.8,191.9 222.9,191.6 C221.9,191.2 221.0,191.0 220.0,190.9 C219.0,190.7 218.1,190.4 217.1,190.4 C216.2,190.4 215.2,190.7 214.3,190.9 C213.3,191.0 212.1,191.1 211.4,191.6 C210.7,192.0 210.7,193.2 210.0,193.7 C209.3,194.2 208.1,194.7 207.1,194.7 C206.2,194.7 205.0,194.2 204.3,193.7 C203.6,193.2 203.8,192.0 202.9,191.6 C201.9,191.1 200.0,191.0 198.6,190.9 C197.1,190.7 195.7,190.5 194.3,190.4 C192.9,190.3 191.1,190.0 190.0,190.1 C188.9,190.3 188.3,191.1 187.9,191.6 C187.4,192.0 187.6,193.0 187.1,193.0 C186.7,193.0 185.7,192.2 185.0,191.6 C184.3,191.0 183.8,190.0 182.9,189.4 C181.9,188.8 180.5,188.5 179.3,188.0 C178.1,187.5 176.7,187.0 175.7,186.6 C174.7,186.2 173.7,186.0 173.1,185.6 C172.5,185.1 172.0,184.3 172.1,183.7Z"/>
<path fill="#ffb000" d="M234.6,188.2 C234.6,187.6 234.8,186.6 235.3,186.2 C235.8,185.8 236.8,185.5 237.5,185.6 C238.2,185.7 239.0,186.2 239.3,186.8 C239.6,187.4 239.5,188.6 239.2,189.2 C238.9,189.8 238.0,190.2 237.4,190.3 C236.8,190.4 236.1,190.3 235.6,190.0 C235.1,189.7 234.6,188.8 234.6,188.2Z"/>
<path fill="#ffb000" d="M204.3,190.4 C204.7,190.0 206.1,189.7 206.9,189.9 C207.6,190.0 208.8,190.8 208.9,191.3 C208.9,191.8 207.9,192.6 207.1,192.7 C206.4,192.9 205.0,192.5 204.6,192.1 C204.1,191.8 203.9,190.8 204.3,190.4Z"/>
<path fill="#ffff00" d="M286.6,162.3 C287.1,162.0 290.3,162.0 290.9,162.3 C291.4,162.6 290.2,163.8 289.7,164.1 C289.2,164.5 288.2,164.5 287.7,164.1 C287.2,163.8 286.0,162.6 286.6,162.3Z"/>
<path fill="#ffff00" d="M475.1,193.7 C475.2,192.6 475.6,191.7 476.1,190.9 C476.7,190.0 477.3,189.0 478.3,188.4 C479.2,187.9 480.7,187.5 481.9,187.6 C483.0,187.6 484.2,188.2 485.4,188.7 C486.6,189.3 488.0,190.1 489.0,190.9 C490.0,191.6 490.8,192.3 491.1,193.3 C491.5,194.2 491.5,195.7 491.1,196.6 C490.8,197.4 489.5,197.7 489.0,198.4 C488.5,199.1 488.2,200.0 488.3,200.9 C488.4,201.7 489.2,202.6 489.7,203.7 C490.2,204.8 491.0,206.2 491.4,207.3 C491.9,208.4 491.9,209.4 492.6,210.1 C493.2,210.9 495.0,211.1 495.4,211.6 C495.9,212.0 495.9,212.8 495.4,213.0 C495.0,213.2 493.5,213.0 492.6,212.7 C491.6,212.5 490.8,212.0 489.7,211.6 C488.6,211.1 487.2,210.5 486.1,209.9 C485.1,209.3 484.1,208.7 483.3,208.0 C482.5,207.3 481.7,206.7 481.1,205.9 C480.5,205.0 480.3,203.9 479.7,203.0 C479.1,202.1 478.2,201.4 477.6,200.4 C476.9,199.5 476.1,198.4 475.7,197.3 C475.3,196.2 475.1,194.8 475.1,193.7Z"/>
<path fill="#ffff00" d="M484.0,218.7 C484.4,218.0 485.2,217.0 486.1,216.6 C487.1,216.1 488.6,216.1 489.7,215.9 C490.8,215.6 491.6,215.3 492.6,215.1 C493.5,215.0 495.0,213.6 495.4,215.1 C495.9,216.7 495.9,223.0 495.4,224.4 C495.0,225.9 493.5,224.0 492.6,223.7 C491.6,223.5 490.5,223.4 489.7,223.0 C488.9,222.6 488.3,222.0 487.6,221.6 C486.9,221.1 486.0,220.3 485.4,220.1 C484.8,220.0 484.2,221.1 484.0,220.9 C483.8,220.6 483.6,219.4 484.0,218.7Z"/>
<path fill="#ffff00" d="M413.3,278.6 C408.3,277.6 413.6,274.5 414.0,272.9 C414.4,271.2 414.7,269.9 415.4,268.6 C416.1,267.3 417.5,266.2 418.3,265.0 C419.0,263.8 419.5,262.6 420.0,261.4 C420.5,260.2 420.8,259.0 421.1,257.9 C421.5,256.7 421.9,255.5 422.3,254.3 C422.6,253.1 423.0,252.0 423.3,250.7 C423.6,249.4 423.6,247.7 424.0,246.4 C424.4,245.1 424.8,243.9 425.4,242.9 C426.0,241.8 426.9,240.8 427.6,240.0 C428.3,239.2 429.2,238.8 429.7,237.9 C430.3,236.9 430.5,235.4 430.9,234.3 C431.2,233.2 431.2,232.3 431.9,231.4 C432.5,230.6 433.5,229.8 434.7,229.3 C435.9,228.8 437.6,228.4 439.0,228.3 C440.4,228.2 442.0,228.5 443.3,228.9 C444.6,229.2 445.8,229.7 446.9,230.3 C447.9,230.8 449.0,231.5 449.7,232.1 C450.4,232.8 451.1,233.5 451.1,234.3 C451.2,235.1 450.4,236.1 450.0,237.1 C449.6,238.2 449.0,239.6 449.0,240.7 C449.0,241.8 449.1,242.7 449.7,243.6 C450.3,244.4 451.4,245.1 452.6,245.7 C453.8,246.3 455.4,246.7 456.9,247.1 C458.3,247.6 460.2,247.6 461.1,248.3 C462.1,249.0 462.5,250.3 462.6,251.4 C462.7,252.5 462.2,254.0 461.9,255.0 C461.5,256.0 460.9,256.6 460.4,257.4 C460.0,258.3 459.6,259.3 459.0,260.0 C458.4,260.7 457.7,261.7 456.9,261.7 C456.0,261.7 455.0,260.6 454.0,260.0 C453.0,259.4 452.1,258.3 451.1,257.9 C450.2,257.4 449.1,257.3 448.3,257.4 C447.5,257.6 446.9,258.2 446.1,258.9 C445.4,259.5 444.7,260.8 444.0,261.4 C443.3,262.1 442.7,262.7 441.9,262.9 C441.0,263.0 439.6,262.1 439.0,262.6 C438.4,263.0 438.3,264.6 438.3,265.7 C438.3,266.8 438.5,268.2 439.0,269.3 C439.5,270.4 440.4,271.2 441.1,272.1 C441.9,273.1 442.8,273.9 443.3,275.0 C443.8,276.1 449.0,278.0 444.0,278.6 C439.0,279.2 418.3,279.5 413.3,278.6Z"/>
<path fill="#ffff00" d="M461.1,237.9 C461.4,236.9 461.9,236.2 462.6,235.7 C463.3,235.2 464.4,235.0 465.4,235.0 C466.5,235.0 467.8,235.3 469.0,235.4 C470.2,235.6 471.5,235.6 472.6,236.0 C473.6,236.4 474.8,237.0 475.4,237.9 C476.0,238.8 476.1,240.2 476.1,241.4 C476.2,242.6 476.1,244.0 475.7,245.0 C475.4,246.0 474.8,246.7 474.0,247.1 C473.2,247.6 472.2,247.8 471.1,247.9 C470.1,247.9 468.8,247.6 467.6,247.4 C466.4,247.3 465.0,247.3 464.0,246.9 C463.0,246.5 462.3,245.9 461.9,245.0 C461.4,244.1 461.3,242.6 461.1,241.4 C461.0,240.2 460.9,238.8 461.1,237.9Z"/>
<path fill="#ffff00" d="M451.1,229.7 C451.1,229.3 452.1,228.8 452.6,228.9 C453.0,229.0 454.0,229.9 454.0,230.3 C454.0,230.7 453.3,231.5 452.9,231.4 C452.4,231.3 451.2,230.1 451.1,229.7Z"/>
<path fill="#ffff00" d="M482.3,237.9 C482.5,237.2 483.2,236.2 484.0,236.0 C484.8,235.8 485.9,236.3 486.9,236.9 C487.8,237.4 488.9,238.5 489.7,239.3 C490.5,240.0 491.3,240.7 491.9,241.4 C492.5,242.1 493.0,242.9 493.3,243.6 C493.5,244.3 493.9,245.4 493.3,245.7 C492.7,246.1 490.9,245.9 489.7,245.7 C488.5,245.5 487.1,245.2 486.1,244.6 C485.2,244.0 484.6,242.9 484.0,242.1 C483.4,241.4 482.9,240.7 482.6,240.0 C482.3,239.3 482.0,238.5 482.3,237.9Z"/>
<path fill="#ffff00" d="M486.9,229.3 C487.2,228.9 488.6,228.6 489.7,228.6 C490.8,228.6 492.7,228.6 493.3,229.3 C493.9,230.0 493.9,232.4 493.3,232.9 C492.7,233.3 490.7,232.4 489.7,232.1 C488.8,231.9 488.0,231.6 487.6,231.1 C487.1,230.7 486.5,229.7 486.9,229.3Z"/>
<path fill="#ffff00" d="M460.4,267.9 C460.7,266.6 461.3,265.9 461.9,265.4 C462.5,265.0 463.2,264.8 464.0,265.0 C464.8,265.2 465.9,266.1 466.9,266.4 C467.8,266.8 468.8,267.3 469.7,267.1 C470.7,267.0 471.5,266.1 472.6,265.7 C473.6,265.3 474.8,264.9 476.1,264.6 C477.5,264.3 479.0,264.2 480.4,264.0 C481.9,263.8 483.4,263.8 484.7,263.6 C486.0,263.4 487.2,263.1 488.3,262.9 C489.4,262.6 490.2,262.4 491.1,262.1 C492.1,261.9 493.5,258.7 494.0,261.4 C494.5,264.2 499.5,275.7 494.0,278.6 C488.5,281.4 466.7,279.5 461.1,278.6 C455.5,277.6 460.5,274.6 460.4,272.9 C460.3,271.1 460.2,269.1 460.4,267.9Z"/>
<path fill="#ffff00" d="M378.3,226.4 C378.3,226.1 380.2,225.8 381.1,225.9 C382.1,225.9 384.0,226.4 384.0,226.7 C384.0,227.0 382.1,227.6 381.1,227.6 C380.2,227.5 378.3,226.7 378.3,226.4Z"/>
<use href="#basemap"/>
</g>
<text x="488.9" y="254.30" font-size="9.6" text-anchor="end" textLength="166.6" lengthAdjust="spacing">from grib files provided by ECMWF</text>
<text x="488.0" y="274.10" font-size="9.6" text-anchor="end" textLength="107.5" lengthAdjust="spacing">©2025 sb@irizone.net</text>
<rect x="141.0" y="49.5" width="352.0" height="227.89999999999998" fill="none" stroke="#000" stroke-width="1"/>
<rect x="158.60" y="36.0" width="35.20" height="7.30" fill="#ffff00" stroke="#000" stroke-width="1.1"/>
<rect x="193.80" y="36.0" width="35.20" height="7.30" fill="#ffd000" stroke="#000" stroke-width="1.1"/>
<rect x="229.00" y="36.0" width="35.20" height="7.30" fill="#ffa800" stroke="#000" stroke-width="1.1"/>
<rect x="264.20" y="36.0" width="35.20" height="7.30" fill="#ff8800" stroke="#000" stroke-width="1.1"/>
<rect x="299.40" y="36.0" width="35.20" height="7.30" fill="#ff6600" stroke="#000" stroke-width="1.1"/>
<rect x="334.60" y="36.0" width="35.20" height="7.30" fill="#ee1100" stroke="#000" stroke-width="1.1"/>
<rect x="369.80" y="36.0" width="35.20" height="7.30" fill="#cc0000" stroke="#000" stroke-width="1.1"/>
<rect x="405.00" y="36.0" width="35.20" height="7.30" fill="#990000" stroke="#000" stroke-width="1.1"/>
<rect x="440.20" y="36.0" width="35.20" height="7.30" fill="#660000" stroke="#000" stroke-width="1.1"/>
<text x="152.5 158.6" y="31.30" font-size="9.7">10</text>
<text x="187.7 193.8" y="31.30" font-size="9.7">25</text>
<text x="222.9 229.0" y="31.30" font-size="9.7">40</text>
<text x="258.1 264.2" y="31.30" font-size="9.7">50</text>
<text x="293.3 299.4" y="31.30" font-size="9.7">60</text>
<text x="328.5 334.6" y="31.30" font-size="9.7">70</text>
<text x="363.7 369.8" y="31.30" font-size="9.7">80</text>
<text x="398.9 405.0" y="31.30" font-size="9.7">90</text>
<text x="434.1 440.2" y="31.30" font-size="9.7">95</text>
<text x="466.2 472.4 478.4" y="31.30" font-size="9.7">100</text>
</g>
<g transform="translate(0,268.45)">
<text x="11.1 15.1 22.1 30.1 34.1 39.1 43.1 51.1 56.1 64.1 72.1 80.1 88.1 92.1 96.1 100.1 105.1 109.1 117.1 124.1 128.1 133.1 141.1 146.1 154.1 158.1 162.1 170.1 175.1 183.1 190.1 194.1 202.1 206.1 211.1 219.1 224.1 228.1 236.1 244.1 248.1 256.1 264.1 272.1 276.1 287.1 291.1 299.1 307.1 311.1 324.1 337.1 341.1 345.1 349.1 357.1 361.1 366.1 370.1 374.1 382.1 390.1 398.1 406.1 414.1 422.1 430.1 438.1 442.1 450.1 458.1 465.1 469.1 474.1 478.1 486.1 494.1 498.1 502.1 510.1 514.1 518.1 526.1 534.1 542.1 550.1 558.1 566.1 574.1 582.1 586.1 594.1 602.1 606.1 614.1" y="23.80" font-size="12.9">IFS - Probabilities total precipitation/24h &gt; 50 mm, Init: 20251121 00z - Valid: 20251130:00 TU</text>
<g clip-path="url(#clip)">
<use href="#basemap"/>
</g>
<text x="488.9" y="254.60" font-size="9.6" text-anchor="end" textLength="166.6" lengthAdjust="spacing">from grib files provided by ECMWF</text>
<text x="488.0" y="273.15" font-size="9.6" text-anchor="end" textLength="107.5" lengthAdjust="spacing">©2025 sb@irizone.net</text>
<rect x="141.0" y="49.5" width="352.0" height="227.89999999999998" fill="none" stroke="#000" stroke-width="1"/>
<rect x="158.60" y="36.4" width="35.20" height="6.90" fill="#ffff00" stroke="#000" stroke-width="1.1"/>
<rect x="193.80" y="36.4" width="35.20" height="6.90" fill="#ffd000" stroke="#000" stroke-width="1.1"/>
<rect x="229.00" y="36.4" width="35.20" height="6.90" fill="#ffa800" stroke="#000" stroke-width="1.1"/>
<rect x="264.20" y="36.4" width="35.20" height="6.90" fill="#ff8800" stroke="#000" stroke-width="1.1"/>
<rect x="299.40" y="36.4" width="35.20" height="6.90" fill="#ff6600" stroke="#000" stroke-width="1.1"/>
<rect x="334.60" y="36.4" width="35.20" height="6.90" fill="#ee1100" stroke="#000" stroke-width="1.1"/>
<rect x="369.80" y="36.4" width="35.20" height="6.90" fill="#cc0000" stroke="#000" stroke-width="1.1"/>
<rect x="405.00" y="36.4" width="35.20" height="6.90" fill="#990000" stroke="#000" stroke-width="1.1"/>
<rect x="440.20" y="36.4" width="35.20" height="6.90" fill="#660000" stroke="#000" stroke-width="1.1"/>
<text x="152.5 158.6" y="31.35" font-size="9.7">10</text>
<text x="187.7 193.8" y="31.35" font-size="9.7">25</text>
<text x="222.9 229.0" y="31.35" font-size="9.7">40</text>
<text x="258.1 264.2" y="31.35" font-size="9.7">50</text>
<text x="293.3 299.4" y="31.35" font-size="9.7">60</text>
<text x="328.5 334.6" y="31.35" font-size="9.7">70</text>
<text x="363.7 369.8" y="31.35" font-size="9.7">80</text>
<text x="398.9 405.0" y="31.35" font-size="9.7">90</text>
<text x="434.1 440.2" y="31.35" font-size="9.7">95</text>
<text x="466.2 472.4 478.4" y="31.35" font-size="9.7">100</text>
</g>
<g transform="translate(0,536.9)">
<text x="7.1 11.1 18.1 26.1 30.1 35.1 39.1 47.1 52.1 60.1 68.1 76.1 84.1 88.1 92.1 96.1 101.1 105.1 113.1 120.1 124.1 129.1 137.1 142.1 150.1 154.1 158.1 166.1 171.1 179.1 186.1 190.1 198.1 202.1 207.1 215.1 220.1 224.1 232.1 240.1 244.1 252.1 260.1 268.1 272.1 283.1 287.1 295.1 303.1 311.1 315.1 328.1 341.1 345.1 349.1 353.1 361.1 365.1 370.1 374.1 378.1 386.1 394.1 402.1 410.1 418.1 426.1 434.1 442.1 446.1 454.1 462.1 469.1 473.1 478.1 482.1 490.1 498.1 502.1 506.1 514.1 518.1 522.1 530.1 538.1 546.1 554.1 562.1 570.1 578.1 586.1 590.1 598.1 606.1 610.1 618.1" y="24.15" font-size="12.9">IFS - Probabilities total precipitation/24h &gt; 100 mm, Init: 20251121 00z - Valid: 20251130:00 TU</text>
<g clip-path="url(#clip)">
<use href="#basemap"/>
</g>
<text x="488.9" y="255.00" font-size="9.6" text-anchor="end" textLength="166.6" lengthAdjust="spacing">from grib files provided by ECMWF</text>
<text x="488.0" y="274.20" font-size="9.6" text-anchor="end" textLength="107.5" lengthAdjust="spacing">©2025 sb@irizone.net</text>
<rect x="141.0" y="49.5" width="352.0" height="227.89999999999998" fill="none" stroke="#000" stroke-width="1"/>
<rect x="158.60" y="36.4" width="35.20" height="6.90" fill="#ffff00" stroke="#000" stroke-width="1.1"/>
<rect x="193.80" y="36.4" width="35.20" height="6.90" fill="#ffd000" stroke="#000" stroke-width="1.1"/>
<rect x="229.00" y="36.4" width="35.20" height="6.90" fill="#ffa800" stroke="#000" stroke-width="1.1"/>
<rect x="264.20" y="36.4" width="35.20" height="6.90" fill="#ff8800" stroke="#000" stroke-width="1.1"/>
<rect x="299.40" y="36.4" width="35.20" height="6.90" fill="#ff6600" stroke="#000" stroke-width="1.1"/>
<rect x="334.60" y="36.4" width="35.20" height="6.90" fill="#ee1100" stroke="#000" stroke-width="1.1"/>
<rect x="369.80" y="36.4" width="35.20" height="6.90" fill="#cc0000" stroke="#000" stroke-width="1.1"/>
<rect x="405.00" y="36.4" width="35.20" height="6.90" fill="#990000" stroke="#000" stroke-width="1.1"/>
<rect x="440.20" y="36.4" width="35.20" height="6.90" fill="#660000" stroke="#000" stroke-width="1.1"/>
<text x="152.5 158.6" y="32.30" font-size="9.7">10</text>
<text x="187.7 193.8" y="32.30" font-size="9.7">25</text>
<text x="222.9 229.0" y="32.30" font-size="9.7">40</text>
<text x="258.1 264.2" y="32.30" font-size="9.7">50</text>
<text x="293.3 299.4" y="32.30" font-size="9.7">60</text>
<text x="328.5 334.6" y="32.30" font-size="9.7">70</text>
<text x="363.7 369.8" y="32.30" font-size="9.7">80</text>
<text x="398.9 405.0" y="32.30" font-size="9.7">90</text>
<text x="434.1 440.2" y="32.30" font-size="9.7">95</text>
<text x="466.2 472.4 478.4" y="32.30" font-size="9.7">100</text>
</g>
</svg>
</body></html>
